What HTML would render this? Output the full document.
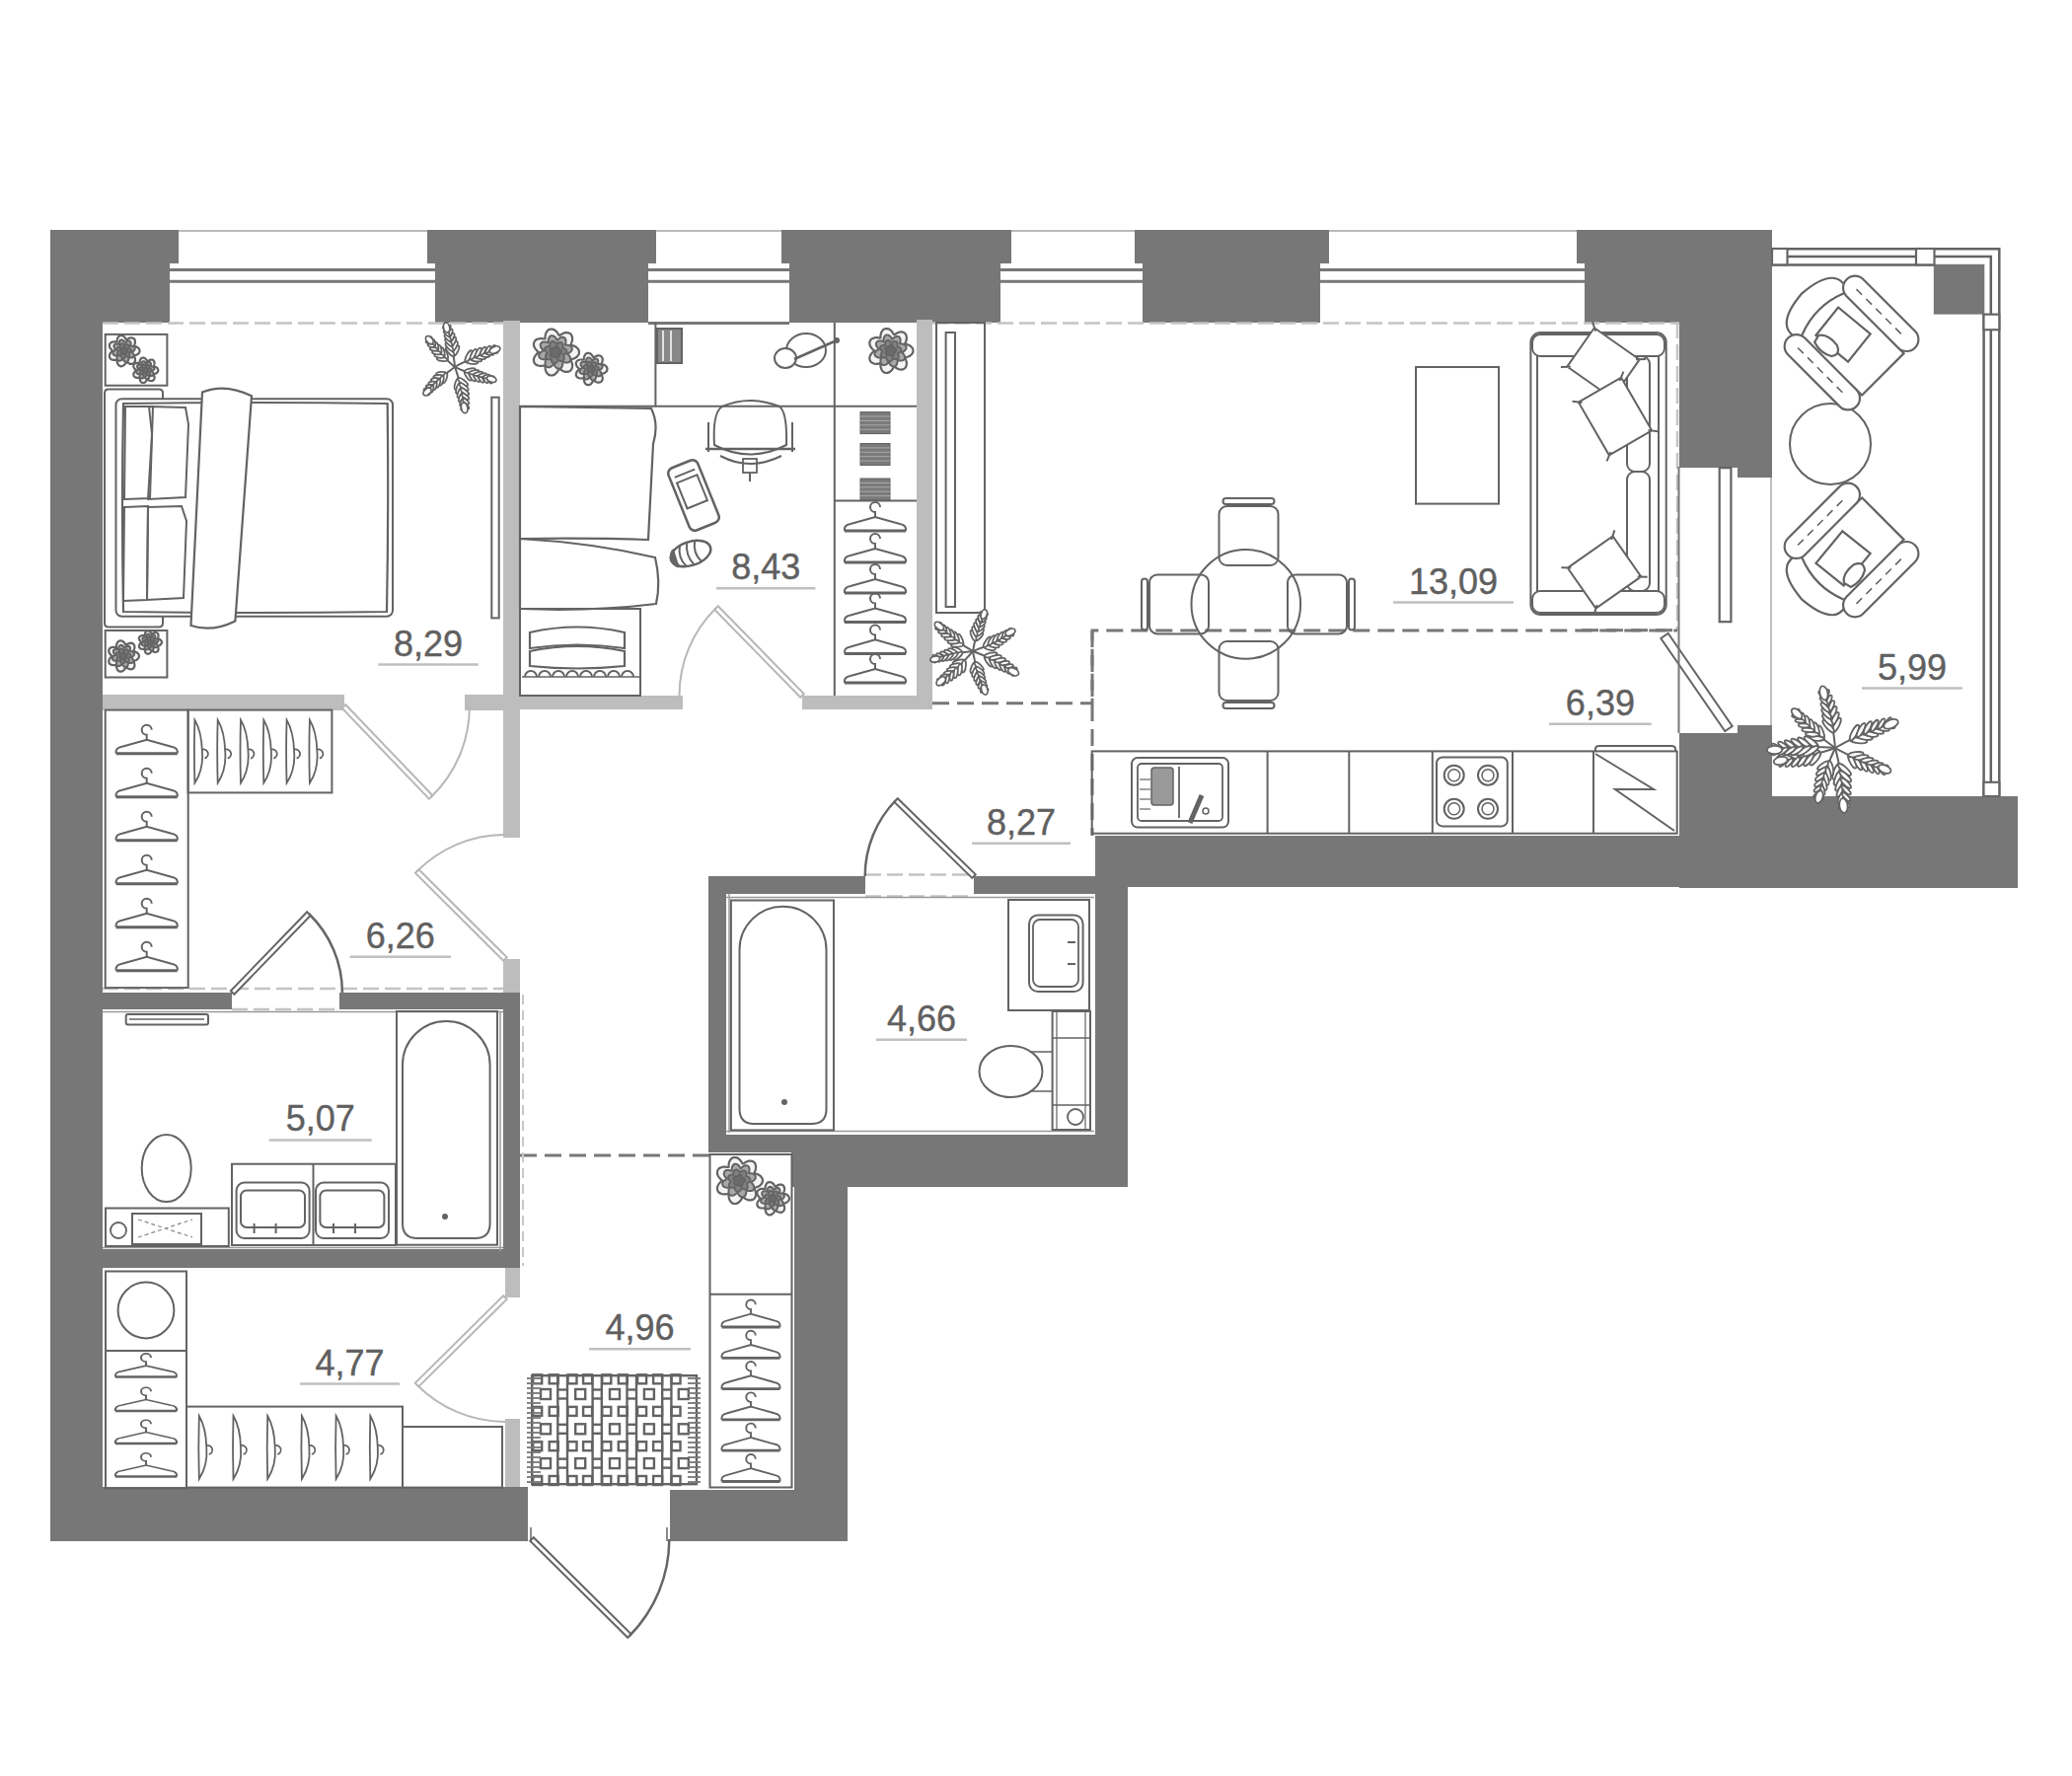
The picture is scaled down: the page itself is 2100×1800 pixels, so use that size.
<!DOCTYPE html>
<html><head><meta charset="utf-8">
<style>
html,body{margin:0;padding:0;background:#fff;width:2100px;height:1800px;overflow:hidden}
svg{display:block}
text{font-family:"Liberation Sans",sans-serif;font-size:36px;fill:#606060;stroke:#606060;stroke-width:0.4}
</style></head><body>
<svg width="2100" height="1800" viewBox="0 0 2100 1800">
<rect width="2100" height="1800" fill="#fff"/>
<defs>
<g id="hg"><path d="M-31,0 L31,0" stroke-width="3"/><path d="M-31,0 Q-32,-6 -25,-7 L0,-14 L25,-7 Q32,-6 31,0"/><path d="M0,-14 L0,-19 A5,5 0 1 1 5,-24"/></g>
<g id="hv"><path d="M0,0 Q-1,32 0,64 Q9,50 7.5,32 Q7,12 0,0 Z"/><path d="M7.5,30 A4.5,4.5 0 1 1 10,39"/></g>
</defs>

<!-- WALLS -->
<g fill="#777">
<rect x="51" y="233" width="130" height="34"/>
<rect x="51" y="233" width="121" height="94"/>
<rect x="51" y="233" width="53" height="1329"/>
<rect x="433" y="233" width="232" height="34"/>
<rect x="441" y="233" width="216" height="94"/>
<rect x="792" y="233" width="233" height="34"/>
<rect x="800" y="233" width="214" height="94"/>
<rect x="1150" y="233" width="197" height="34"/>
<rect x="1158" y="233" width="180" height="94"/>
<rect x="1598" y="233" width="198" height="34"/>
<rect x="1606" y="233" width="190" height="94"/>
<rect x="1702" y="233" width="94" height="241"/>
<rect x="1761" y="233" width="35" height="251"/>
<rect x="1761" y="735" width="35" height="165"/>
<rect x="1702" y="743" width="94" height="157"/>
<rect x="1110" y="847" width="686" height="52"/>
<rect x="1796" y="807" width="249" height="93"/>
<rect x="1110" y="847" width="33" height="356"/>
<rect x="718" y="1150" width="425" height="18"/>
<rect x="802" y="1150" width="341" height="53"/>
<rect x="718" y="888" width="159" height="18"/>
<rect x="987" y="888" width="123" height="18"/>
<rect x="718" y="888" width="18" height="280"/>
<rect x="805" y="1150" width="54" height="412"/>
<rect x="679" y="1510" width="180" height="52"/>
<rect x="51" y="1507" width="484" height="55"/>
<rect x="104" y="1006" width="131" height="17"/>
<rect x="344" y="1006" width="183" height="17"/>
<rect x="510" y="1006" width="17" height="279"/>
<rect x="104" y="1266" width="423" height="19"/>
</g>
<!-- PARTITIONS -->
<g fill="#bdbdbd">
<rect x="510" y="325" width="17" height="524"/>
<rect x="510" y="972" width="17" height="34"/>
<rect x="104" y="704" width="245" height="16"/>
<rect x="471" y="704" width="56" height="16"/>
<rect x="527" y="705" width="165" height="14"/>
<rect x="813" y="705" width="132" height="14"/>
<rect x="929" y="324" width="16" height="395"/>
<rect x="512" y="1285" width="15" height="30"/>
<rect x="512" y="1438" width="15" height="69"/>
</g>
<!-- WINDOWS -->
<g fill="none">
<line x1="181" y1="234" x2="433" y2="234" stroke="#bbb" stroke-width="2"/>
<line x1="172" y1="273.5" x2="441" y2="273.5" stroke="#777" stroke-width="3"/>
<line x1="172" y1="285.3" x2="441" y2="285.3" stroke="#777" stroke-width="3"/>
<line x1="665" y1="234" x2="792" y2="234" stroke="#bbb" stroke-width="2"/>
<line x1="657" y1="273.5" x2="800" y2="273.5" stroke="#777" stroke-width="3"/>
<line x1="657" y1="285.3" x2="800" y2="285.3" stroke="#777" stroke-width="3"/>
<line x1="1025" y1="234" x2="1150" y2="234" stroke="#bbb" stroke-width="2"/>
<line x1="1014" y1="273.5" x2="1158" y2="273.5" stroke="#777" stroke-width="3"/>
<line x1="1014" y1="285.3" x2="1158" y2="285.3" stroke="#777" stroke-width="3"/>
<line x1="1347" y1="234" x2="1598" y2="234" stroke="#bbb" stroke-width="2"/>
<line x1="1338" y1="273.5" x2="1606" y2="273.5" stroke="#777" stroke-width="3"/>
<line x1="1338" y1="285.3" x2="1606" y2="285.3" stroke="#777" stroke-width="3"/>
<line x1="657" y1="327.5" x2="800" y2="327.5" stroke="#777" stroke-width="3"/>
</g>
<!-- DASHED -->
<g fill="none" stroke="#c4c4c4" stroke-width="2.5" stroke-dasharray="16,6">
<line x1="104" y1="327.5" x2="510" y2="327.5"/>
<line x1="945" y1="327.5" x2="1702" y2="327.5"/>
<line x1="1700" y1="327" x2="1700" y2="639"/>
<line x1="104" y1="1002" x2="510" y2="1002"/>
<line x1="235" y1="1023" x2="344" y2="1023"/>
<line x1="877" y1="886.5" x2="987" y2="886.5"/>
<line x1="877" y1="908.5" x2="987" y2="908.5"/>
</g>
<g fill="none" stroke="#777" stroke-width="3" stroke-dasharray="17,8">
<path d="M945,712.7 H1107 V639 H1700"/>
<path d="M1107,639 V847"/>
<line x1="527" y1="1171" x2="719" y2="1171"/>
<line x1="1603" y1="638.7" x2="1702" y2="638.7"/>
</g>
<!-- DOORS -->
<g fill="#fff" stroke="#b8b8b8" stroke-width="2">
<rect x="0" y="-2.5" width="127.4" height="5" transform="translate(348.5,716) rotate(46.21)"/>
<rect x="0" y="-2.5" width="124.5" height="5" transform="translate(813,705) rotate(-134.35)"/>
<rect x="0" y="-2.5" width="126.1" height="5" transform="translate(512,972) rotate(-135.10)"/>
<rect x="0" y="-2.5" width="125.9" height="5" transform="translate(512,1315) rotate(135.32)"/>
</g><g fill="none" stroke="#b8b8b8" stroke-width="2">
<path d="M436.7,808 A127.4,127.4 0 0 0 475.9,716.0"/>
<path d="M726,616 A124.5,124.5 0 0 0 688.5,705.0"/>
<path d="M422.7,883 A126.1,126.1 0 0 1 512.0,845.9"/>
<path d="M422.5,1403.5 A125.9,125.9 0 0 0 512.0,1440.9"/>
</g>
<g fill="#fff" stroke="#666" stroke-width="2">
<rect x="0" y="-2.5" width="111.3" height="5" transform="translate(235.6,1006) rotate(-45.95)"/>
<rect x="0" y="-2.5" width="110.3" height="5" transform="translate(987,888) rotate(-135.73)"/>
<rect x="0" y="-2.5" width="139.3" height="5" transform="translate(539,1560) rotate(44.71)"/>
<rect x="0" y="-4.5" width="114.3" height="9" transform="translate(1687,644.5) rotate(55.34)"/>
</g><g fill="none" stroke="#666" stroke-width="2.5">
<path d="M313,926 A111.3,111.3 0 0 1 346.9,1006.0"/>
<path d="M908,811 A110.3,110.3 0 0 0 876.7,888.0"/>
<path d="M638,1658 A139.3,139.3 0 0 0 678.3,1560.0"/>
</g>
<!-- FURN START -->
<rect x="106.7" y="338.9" width="62.7" height="51.8" rx="0" fill="none" stroke="#636363" stroke-width="2" />
<path d="M141.6,355.6 L141.4,356.6 L141.0,357.6 L140.2,358.5 L139.2,359.3 L138.1,359.8 L136.8,360.2 L135.8,360.6 L136.4,361.8 L136.8,363.1 L137.0,364.3 L137.0,365.6 L136.7,366.7 L136.1,367.6 L135.3,368.3 L134.4,368.7 L133.3,368.9 L132.1,368.8 L130.9,368.4 L129.7,367.8 L128.7,367.0 L127.9,367.0 L127.3,368.2 L126.5,369.3 L125.6,370.2 L124.6,370.8 L123.5,371.2 L122.5,371.3 L121.5,371.0 L120.6,370.5 L119.8,369.6 L119.2,368.6 L118.8,367.4 L118.6,366.1 L118.6,364.7 L117.7,364.6 L116.4,364.8 L115.1,364.8 L113.9,364.6 L112.8,364.2 L111.9,363.5 L111.3,362.7 L110.9,361.7 L110.9,360.6 L111.1,359.5 L111.6,358.4 L112.4,357.3 L113.3,356.4 L114.4,355.6 L113.3,354.8 L112.4,353.9 L111.6,352.8 L111.1,351.7 L110.9,350.6 L110.9,349.5 L111.3,348.5 L111.9,347.7 L112.8,347.0 L113.9,346.6 L115.1,346.4 L116.4,346.4 L117.7,346.6 L118.6,346.5 L118.6,345.1 L118.8,343.8 L119.2,342.6 L119.8,341.6 L120.6,340.7 L121.5,340.2 L122.5,339.9 L123.5,340.0 L124.6,340.4 L125.6,341.0 L126.5,341.9 L127.3,343.0 L127.9,344.2 L128.7,344.2 L129.7,343.4 L130.9,342.8 L132.1,342.4 L133.3,342.3 L134.4,342.5 L135.3,342.9 L136.1,343.6 L136.7,344.5 L137.0,345.6 L137.0,346.9 L136.8,348.1 L136.4,349.4 L135.8,350.6 L136.8,351.0 L138.1,351.4 L139.2,351.9 L140.2,352.7 L141.0,353.6 L141.4,354.6 L141.6,355.6Z" fill="#f4f4f4" stroke="#636363" stroke-width="2.2"/>
<path d="M135.5,355.6 L134.7,356.2 L133.8,356.7 L134.2,357.3 L134.9,358.1 L135.4,358.9 L135.7,359.8 L135.8,360.6 L135.6,361.4 L135.1,362.0 L134.4,362.4 L133.6,362.6 L132.6,362.6 L131.6,362.5 L130.6,362.1 L130.5,362.9 L130.4,364.0 L130.2,364.9 L129.8,365.7 L129.3,366.4 L128.6,366.7 L127.8,366.8 L127.1,366.6 L126.3,366.2 L125.6,365.5 L125.0,364.7 L124.5,363.8 L123.9,364.2 L123.1,364.9 L122.3,365.4 L121.4,365.7 L120.6,365.8 L119.8,365.6 L119.2,365.1 L118.8,364.4 L118.6,363.6 L118.6,362.6 L118.7,361.6 L119.1,360.6 L118.3,360.5 L117.2,360.4 L116.3,360.2 L115.5,359.8 L114.8,359.3 L114.5,358.6 L114.4,357.8 L114.6,357.1 L115.0,356.3 L115.7,355.6 L116.5,355.0 L117.4,354.5 L117.0,353.9 L116.3,353.1 L115.8,352.3 L115.5,351.4 L115.4,350.6 L115.6,349.8 L116.1,349.2 L116.8,348.8 L117.6,348.6 L118.6,348.6 L119.6,348.7 L120.6,349.1 L120.7,348.3 L120.8,347.2 L121.0,346.3 L121.4,345.5 L121.9,344.8 L122.6,344.5 L123.4,344.4 L124.1,344.6 L124.9,345.0 L125.6,345.7 L126.2,346.5 L126.7,347.4 L127.3,347.0 L128.1,346.3 L128.9,345.8 L129.8,345.5 L130.6,345.4 L131.4,345.6 L132.0,346.1 L132.4,346.8 L132.6,347.6 L132.6,348.6 L132.5,349.6 L132.1,350.6 L132.9,350.7 L134.0,350.8 L134.9,351.0 L135.7,351.4 L136.4,351.9 L136.7,352.6 L136.8,353.4 L136.6,354.1 L136.2,354.9 L135.5,355.6Z" fill="#a8a8a8" stroke="#636363" stroke-width="2"/>
<path d="M133.1,355.6 L132.9,356.1 L132.5,356.5 L132.0,356.9 L131.5,357.2 L130.9,357.4 L130.9,357.8 L131.2,358.4 L131.4,358.9 L131.5,359.5 L131.5,360.1 L131.3,360.6 L131.0,361.0 L130.6,361.3 L130.2,361.5 L129.6,361.6 L129.0,361.5 L128.4,361.4 L127.9,361.1 L127.3,360.7 L127.1,361.3 L126.8,361.9 L126.5,362.4 L126.1,362.8 L125.6,363.1 L125.1,363.2 L124.6,363.2 L124.1,363.1 L123.7,362.8 L123.3,362.3 L123.0,361.8 L122.8,361.2 L122.7,360.6 L122.5,360.2 L121.9,360.4 L121.3,360.5 L120.7,360.5 L120.1,360.4 L119.6,360.2 L119.2,359.9 L119.0,359.4 L118.8,358.9 L118.8,358.4 L119.0,357.9 L119.2,357.3 L119.6,356.8 L120.0,356.3 L120.0,356.0 L119.4,355.6 L119.0,355.2 L118.6,354.7 L118.4,354.2 L118.3,353.6 L118.3,353.1 L118.5,352.7 L118.9,352.3 L119.3,352.0 L119.9,351.8 L120.5,351.7 L121.1,351.6 L121.7,351.7 L121.8,351.2 L121.8,350.6 L121.8,350.0 L122.0,349.4 L122.3,348.9 L122.7,348.6 L123.1,348.3 L123.6,348.2 L124.1,348.3 L124.7,348.5 L125.2,348.8 L125.6,349.3 L126.0,349.8 L126.3,350.2 L126.8,349.8 L127.3,349.4 L127.8,349.1 L128.4,348.9 L128.9,348.9 L129.4,349.0 L129.9,349.2 L130.2,349.6 L130.5,350.0 L130.6,350.6 L130.6,351.2 L130.5,351.8 L130.3,352.4 L130.4,352.8 L131.1,352.9 L131.7,353.1 L132.2,353.4 L132.7,353.7 L133.0,354.1 L133.2,354.6 L133.2,355.1 L133.1,355.6Z" fill="#808080" stroke="#636363" stroke-width="1.8"/>
<path d="M129.7,355.6 L129.6,355.9 L129.5,356.1 L129.4,356.3 L129.2,356.6 L128.9,356.7 L128.7,356.9 L128.4,357.0 L128.1,357.1 L128.2,357.3 L128.2,357.6 L128.2,357.9 L128.2,358.2 L128.1,358.5 L128.0,358.7 L127.8,359.0 L127.7,359.2 L127.4,359.3 L127.2,359.4 L126.9,359.5 L126.7,359.5 L126.4,359.5 L126.1,359.4 L125.8,359.3 L125.6,359.1 L125.4,359.0 L125.2,358.7 L125.0,358.5 L124.8,358.6 L124.6,358.7 L124.3,358.8 L124.0,358.9 L123.7,358.9 L123.4,358.9 L123.1,358.8 L122.9,358.7 L122.7,358.5 L122.5,358.3 L122.3,358.1 L122.2,357.9 L122.1,357.6 L122.1,357.3 L122.1,357.0 L122.2,356.8 L122.3,356.5 L122.5,356.2 L122.6,356.0 L122.6,355.8 L122.4,355.6 L122.2,355.4 L122.0,355.1 L121.9,354.9 L121.8,354.6 L121.8,354.3 L121.8,354.0 L121.9,353.8 L122.0,353.5 L122.2,353.3 L122.3,353.1 L122.6,352.9 L122.8,352.8 L123.1,352.8 L123.4,352.7 L123.7,352.7 L124.0,352.8 L124.3,352.9 L124.5,352.8 L124.6,352.6 L124.7,352.3 L124.9,352.1 L125.1,351.9 L125.3,351.7 L125.6,351.6 L125.9,351.5 L126.1,351.5 L126.4,351.5 L126.7,351.6 L126.9,351.7 L127.1,351.9 L127.3,352.1 L127.5,352.3 L127.6,352.6 L127.7,352.8 L127.8,353.1 L127.8,353.4 L127.8,353.7 L128.1,353.7 L128.4,353.7 L128.7,353.8 L128.9,354.0 L129.1,354.1 L129.4,354.3 L129.5,354.5 L129.6,354.8 L129.7,355.1 L129.7,355.3 L129.7,355.6Z" fill="#6a6a6a" stroke="#636363" stroke-width="1.5"/>
<path d="M160.3,375.3 L160.2,376.1 L159.8,376.9 L159.2,377.7 L158.4,378.3 L157.4,378.7 L156.4,379.1 L155.6,379.4 L156.1,380.4 L156.4,381.4 L156.6,382.4 L156.5,383.4 L156.3,384.3 L155.8,385.0 L155.2,385.6 L154.4,386.0 L153.5,386.1 L152.6,386.0 L151.6,385.7 L150.7,385.2 L149.8,384.6 L149.1,384.6 L148.7,385.6 L148.0,386.4 L147.3,387.2 L146.5,387.7 L145.6,388.0 L144.8,388.0 L143.9,387.8 L143.2,387.4 L142.6,386.7 L142.1,385.9 L141.8,384.9 L141.6,383.8 L141.6,382.7 L140.9,382.6 L139.8,382.8 L138.8,382.8 L137.8,382.6 L136.9,382.3 L136.2,381.7 L135.6,381.0 L135.4,380.2 L135.3,379.4 L135.5,378.5 L135.9,377.6 L136.6,376.7 L137.3,376.0 L138.2,375.3 L137.3,374.6 L136.6,373.9 L135.9,373.0 L135.5,372.1 L135.3,371.2 L135.4,370.4 L135.6,369.6 L136.2,368.9 L136.9,368.3 L137.8,368.0 L138.8,367.8 L139.8,367.8 L140.9,368.0 L141.6,367.9 L141.6,366.8 L141.8,365.7 L142.1,364.7 L142.6,363.9 L143.2,363.2 L143.9,362.8 L144.8,362.6 L145.6,362.6 L146.5,362.9 L147.3,363.4 L148.0,364.2 L148.7,365.0 L149.1,366.0 L149.8,366.0 L150.7,365.4 L151.6,364.9 L152.6,364.6 L153.5,364.5 L154.4,364.6 L155.2,365.0 L155.8,365.6 L156.3,366.3 L156.5,367.2 L156.6,368.2 L156.4,369.2 L156.1,370.2 L155.6,371.2 L156.4,371.5 L157.4,371.9 L158.4,372.3 L159.2,372.9 L159.8,373.7 L160.2,374.5 L160.3,375.3Z" fill="#f4f4f4" stroke="#636363" stroke-width="2.2"/>
<path d="M155.4,375.3 L154.7,375.8 L153.9,376.2 L154.3,376.7 L154.9,377.3 L155.3,378.0 L155.5,378.7 L155.6,379.4 L155.4,380.0 L155.0,380.5 L154.5,380.8 L153.8,381.0 L153.0,381.0 L152.2,380.9 L151.4,380.6 L151.3,381.2 L151.2,382.1 L151.0,382.9 L150.7,383.5 L150.3,384.0 L149.7,384.3 L149.1,384.4 L148.5,384.3 L147.9,383.9 L147.3,383.4 L146.8,382.7 L146.4,381.9 L145.9,382.3 L145.3,382.9 L144.6,383.3 L143.9,383.5 L143.2,383.6 L142.6,383.4 L142.1,383.0 L141.8,382.5 L141.6,381.8 L141.6,381.0 L141.7,380.2 L142.0,379.4 L141.4,379.3 L140.5,379.2 L139.7,379.0 L139.1,378.7 L138.6,378.3 L138.3,377.7 L138.2,377.1 L138.3,376.5 L138.7,375.9 L139.2,375.3 L139.9,374.8 L140.7,374.4 L140.3,373.9 L139.7,373.3 L139.3,372.6 L139.1,371.9 L139.0,371.2 L139.2,370.6 L139.6,370.1 L140.1,369.8 L140.8,369.6 L141.6,369.6 L142.4,369.7 L143.2,370.0 L143.3,369.4 L143.4,368.5 L143.6,367.7 L143.9,367.1 L144.3,366.6 L144.9,366.3 L145.5,366.2 L146.1,366.3 L146.7,366.7 L147.3,367.2 L147.8,367.9 L148.2,368.7 L148.7,368.3 L149.3,367.7 L150.0,367.3 L150.7,367.1 L151.4,367.0 L152.0,367.2 L152.5,367.6 L152.8,368.1 L153.0,368.8 L153.0,369.6 L152.9,370.4 L152.6,371.2 L153.2,371.3 L154.1,371.4 L154.9,371.6 L155.5,371.9 L156.0,372.3 L156.3,372.9 L156.4,373.5 L156.3,374.1 L155.9,374.7 L155.4,375.3Z" fill="#a8a8a8" stroke="#636363" stroke-width="2"/>
<path d="M153.4,375.3 L153.2,375.7 L152.9,376.0 L152.5,376.3 L152.1,376.6 L151.6,376.7 L151.6,377.1 L151.8,377.5 L152.0,378.0 L152.1,378.5 L152.1,379.0 L151.9,379.4 L151.7,379.7 L151.4,380.0 L151.0,380.1 L150.6,380.2 L150.1,380.1 L149.6,380.0 L149.1,379.7 L148.7,379.5 L148.5,379.9 L148.3,380.4 L148.0,380.8 L147.7,381.1 L147.3,381.4 L146.9,381.5 L146.5,381.5 L146.1,381.4 L145.7,381.1 L145.4,380.8 L145.2,380.4 L145.0,379.9 L145.0,379.4 L144.8,379.0 L144.3,379.2 L143.8,379.3 L143.3,379.3 L142.9,379.2 L142.4,379.0 L142.1,378.8 L141.9,378.4 L141.8,378.0 L141.8,377.6 L141.9,377.1 L142.1,376.7 L142.4,376.3 L142.8,375.9 L142.7,375.6 L142.3,375.3 L141.9,374.9 L141.6,374.6 L141.4,374.1 L141.4,373.7 L141.4,373.3 L141.6,372.9 L141.8,372.6 L142.2,372.3 L142.6,372.2 L143.1,372.1 L143.6,372.1 L144.2,372.2 L144.2,371.8 L144.2,371.2 L144.2,370.7 L144.4,370.3 L144.6,369.9 L144.9,369.6 L145.3,369.4 L145.7,369.3 L146.1,369.4 L146.5,369.5 L146.9,369.8 L147.3,370.1 L147.6,370.6 L147.9,370.9 L148.2,370.6 L148.7,370.2 L149.1,370.0 L149.5,369.9 L150.0,369.8 L150.4,369.9 L150.8,370.1 L151.1,370.4 L151.3,370.8 L151.4,371.2 L151.4,371.7 L151.3,372.2 L151.2,372.7 L151.2,373.0 L151.7,373.1 L152.2,373.3 L152.7,373.5 L153.0,373.8 L153.3,374.1 L153.5,374.5 L153.5,374.9 L153.4,375.3Z" fill="#808080" stroke="#636363" stroke-width="1.8"/>
<path d="M150.6,375.3 L150.6,375.5 L150.5,375.7 L150.4,375.9 L150.2,376.1 L150.0,376.2 L149.8,376.3 L149.6,376.4 L149.4,376.5 L149.4,376.7 L149.4,376.9 L149.4,377.2 L149.4,377.4 L149.3,377.6 L149.2,377.8 L149.1,378.0 L149.0,378.2 L148.8,378.3 L148.6,378.4 L148.4,378.5 L148.2,378.5 L147.9,378.5 L147.7,378.4 L147.5,378.3 L147.3,378.2 L147.1,378.0 L147.0,377.9 L146.8,377.7 L146.7,377.7 L146.4,377.8 L146.2,377.9 L146.0,377.9 L145.8,378.0 L145.5,377.9 L145.3,377.9 L145.1,377.8 L144.9,377.7 L144.8,377.5 L144.6,377.3 L144.5,377.1 L144.5,376.9 L144.5,376.7 L144.5,376.5 L144.5,376.2 L144.6,376.0 L144.7,375.8 L144.9,375.6 L144.9,375.5 L144.7,375.3 L144.5,375.1 L144.4,374.9 L144.3,374.7 L144.2,374.5 L144.2,374.3 L144.2,374.0 L144.3,373.8 L144.4,373.6 L144.5,373.4 L144.7,373.3 L144.8,373.1 L145.1,373.1 L145.3,373.0 L145.5,373.0 L145.7,373.0 L146.0,373.0 L146.2,373.1 L146.4,373.1 L146.5,372.9 L146.6,372.7 L146.7,372.5 L146.9,372.3 L147.1,372.2 L147.3,372.1 L147.5,372.0 L147.7,372.0 L148.0,372.0 L148.2,372.0 L148.4,372.1 L148.6,372.3 L148.7,372.4 L148.8,372.6 L148.9,372.8 L149.0,373.1 L149.1,373.3 L149.1,373.5 L149.1,373.7 L149.3,373.7 L149.6,373.8 L149.8,373.9 L150.0,374.0 L150.2,374.1 L150.3,374.3 L150.5,374.4 L150.6,374.6 L150.6,374.9 L150.7,375.1 L150.6,375.3Z" fill="#6a6a6a" stroke="#636363" stroke-width="1.5"/>
<rect x="106.7" y="639" width="62.7" height="47.5" rx="0" fill="none" stroke="#636363" stroke-width="2" />
<path d="M141.0,665.0 L140.8,666.0 L140.4,667.0 L139.6,667.9 L138.6,668.7 L137.5,669.2 L136.2,669.6 L135.2,670.0 L135.8,671.2 L136.2,672.5 L136.4,673.7 L136.4,675.0 L136.1,676.1 L135.5,677.0 L134.7,677.7 L133.8,678.1 L132.7,678.3 L131.5,678.2 L130.3,677.8 L129.1,677.2 L128.1,676.4 L127.3,676.4 L126.7,677.6 L125.9,678.7 L125.0,679.6 L124.0,680.2 L122.9,680.6 L121.9,680.7 L120.9,680.4 L120.0,679.9 L119.2,679.0 L118.6,678.0 L118.2,676.8 L118.0,675.5 L118.0,674.1 L117.1,674.0 L115.8,674.2 L114.5,674.2 L113.3,674.0 L112.2,673.6 L111.3,672.9 L110.7,672.1 L110.3,671.1 L110.3,670.0 L110.5,668.9 L111.0,667.8 L111.8,666.7 L112.7,665.8 L113.8,665.0 L112.7,664.2 L111.8,663.3 L111.0,662.2 L110.5,661.1 L110.3,660.0 L110.3,658.9 L110.7,657.9 L111.3,657.1 L112.2,656.4 L113.3,656.0 L114.5,655.8 L115.8,655.8 L117.1,656.0 L118.0,655.9 L118.0,654.5 L118.2,653.2 L118.6,652.0 L119.2,651.0 L120.0,650.1 L120.9,649.6 L121.9,649.3 L122.9,649.4 L124.0,649.8 L125.0,650.4 L125.9,651.3 L126.7,652.4 L127.3,653.6 L128.1,653.6 L129.1,652.8 L130.3,652.2 L131.5,651.8 L132.7,651.7 L133.8,651.9 L134.7,652.3 L135.5,653.0 L136.1,653.9 L136.4,655.0 L136.4,656.3 L136.2,657.5 L135.8,658.8 L135.2,660.0 L136.2,660.4 L137.5,660.8 L138.6,661.3 L139.6,662.1 L140.4,663.0 L140.8,664.0 L141.0,665.0Z" fill="#f4f4f4" stroke="#636363" stroke-width="2.2"/>
<path d="M134.9,665.0 L134.1,665.6 L133.2,666.1 L133.6,666.7 L134.3,667.5 L134.8,668.3 L135.1,669.2 L135.2,670.0 L135.0,670.8 L134.5,671.4 L133.8,671.8 L133.0,672.0 L132.0,672.0 L131.0,671.9 L130.0,671.5 L129.9,672.3 L129.8,673.4 L129.6,674.3 L129.2,675.1 L128.7,675.8 L128.0,676.1 L127.2,676.2 L126.5,676.0 L125.7,675.6 L125.0,674.9 L124.4,674.1 L123.9,673.2 L123.3,673.6 L122.5,674.3 L121.7,674.8 L120.8,675.1 L120.0,675.2 L119.2,675.0 L118.6,674.5 L118.2,673.8 L118.0,673.0 L118.0,672.0 L118.1,671.0 L118.5,670.0 L117.7,669.9 L116.6,669.8 L115.7,669.6 L114.9,669.2 L114.2,668.7 L113.9,668.0 L113.8,667.2 L114.0,666.5 L114.4,665.7 L115.1,665.0 L115.9,664.4 L116.8,663.9 L116.4,663.3 L115.7,662.5 L115.2,661.7 L114.9,660.8 L114.8,660.0 L115.0,659.2 L115.5,658.6 L116.2,658.2 L117.0,658.0 L118.0,658.0 L119.0,658.1 L120.0,658.5 L120.1,657.7 L120.2,656.6 L120.4,655.7 L120.8,654.9 L121.3,654.2 L122.0,653.9 L122.8,653.8 L123.5,654.0 L124.3,654.4 L125.0,655.1 L125.6,655.9 L126.1,656.8 L126.7,656.4 L127.5,655.7 L128.3,655.2 L129.2,654.9 L130.0,654.8 L130.8,655.0 L131.4,655.5 L131.8,656.2 L132.0,657.0 L132.0,658.0 L131.9,659.0 L131.5,660.0 L132.3,660.1 L133.4,660.2 L134.3,660.4 L135.1,660.8 L135.8,661.3 L136.1,662.0 L136.2,662.8 L136.0,663.5 L135.6,664.3 L134.9,665.0Z" fill="#a8a8a8" stroke="#636363" stroke-width="2"/>
<path d="M132.5,665.0 L132.3,665.5 L131.9,665.9 L131.4,666.3 L130.9,666.6 L130.3,666.8 L130.3,667.2 L130.6,667.8 L130.8,668.3 L130.9,668.9 L130.9,669.5 L130.7,670.0 L130.4,670.4 L130.0,670.7 L129.6,670.9 L129.0,671.0 L128.4,670.9 L127.8,670.8 L127.3,670.5 L126.7,670.1 L126.5,670.7 L126.2,671.3 L125.9,671.8 L125.5,672.2 L125.0,672.5 L124.5,672.6 L124.0,672.6 L123.5,672.5 L123.1,672.2 L122.7,671.7 L122.4,671.2 L122.2,670.6 L122.1,670.0 L121.9,669.6 L121.3,669.8 L120.7,669.9 L120.1,669.9 L119.5,669.8 L119.0,669.6 L118.6,669.3 L118.4,668.8 L118.2,668.3 L118.2,667.8 L118.4,667.3 L118.6,666.7 L119.0,666.2 L119.4,665.7 L119.4,665.4 L118.8,665.0 L118.4,664.6 L118.0,664.1 L117.8,663.6 L117.7,663.0 L117.7,662.5 L117.9,662.1 L118.3,661.7 L118.7,661.4 L119.3,661.2 L119.9,661.1 L120.5,661.0 L121.1,661.1 L121.2,660.6 L121.2,660.0 L121.2,659.4 L121.4,658.8 L121.7,658.3 L122.1,658.0 L122.5,657.7 L123.0,657.6 L123.5,657.7 L124.1,657.9 L124.6,658.2 L125.0,658.7 L125.4,659.2 L125.7,659.6 L126.2,659.2 L126.7,658.8 L127.2,658.5 L127.8,658.3 L128.3,658.3 L128.8,658.4 L129.3,658.6 L129.6,659.0 L129.9,659.4 L130.0,660.0 L130.0,660.6 L129.9,661.2 L129.7,661.8 L129.8,662.2 L130.5,662.3 L131.1,662.5 L131.6,662.8 L132.1,663.1 L132.4,663.5 L132.6,664.0 L132.6,664.5 L132.5,665.0Z" fill="#808080" stroke="#636363" stroke-width="1.8"/>
<path d="M129.1,665.0 L129.0,665.3 L128.9,665.5 L128.8,665.7 L128.6,666.0 L128.3,666.1 L128.1,666.3 L127.8,666.4 L127.5,666.5 L127.6,666.7 L127.6,667.0 L127.6,667.3 L127.6,667.6 L127.5,667.9 L127.4,668.1 L127.2,668.4 L127.1,668.6 L126.8,668.7 L126.6,668.8 L126.3,668.9 L126.1,668.9 L125.8,668.9 L125.5,668.8 L125.2,668.7 L125.0,668.5 L124.8,668.4 L124.6,668.1 L124.4,667.9 L124.2,668.0 L124.0,668.1 L123.7,668.2 L123.4,668.3 L123.1,668.3 L122.8,668.3 L122.5,668.2 L122.3,668.1 L122.1,667.9 L121.9,667.7 L121.7,667.5 L121.6,667.3 L121.5,667.0 L121.5,666.7 L121.5,666.4 L121.6,666.2 L121.7,665.9 L121.9,665.6 L122.0,665.4 L122.0,665.2 L121.8,665.0 L121.6,664.8 L121.4,664.5 L121.3,664.3 L121.2,664.0 L121.2,663.7 L121.2,663.4 L121.3,663.2 L121.4,662.9 L121.6,662.7 L121.7,662.5 L122.0,662.3 L122.2,662.2 L122.5,662.2 L122.8,662.1 L123.1,662.1 L123.4,662.2 L123.7,662.3 L123.9,662.2 L124.0,662.0 L124.1,661.7 L124.3,661.5 L124.5,661.3 L124.7,661.1 L125.0,661.0 L125.3,660.9 L125.5,660.9 L125.8,660.9 L126.1,661.0 L126.3,661.1 L126.5,661.3 L126.7,661.5 L126.9,661.7 L127.0,662.0 L127.1,662.2 L127.2,662.5 L127.2,662.8 L127.2,663.1 L127.5,663.1 L127.8,663.1 L128.1,663.2 L128.3,663.4 L128.5,663.5 L128.8,663.7 L128.9,663.9 L129.0,664.2 L129.1,664.5 L129.1,664.7 L129.1,665.0Z" fill="#6a6a6a" stroke="#636363" stroke-width="1.5"/>
<path d="M164.0,651.0 L163.9,651.8 L163.5,652.5 L163.0,653.2 L162.2,653.7 L161.4,654.2 L160.4,654.5 L159.6,654.8 L160.1,655.7 L160.4,656.6 L160.5,657.6 L160.5,658.5 L160.3,659.3 L159.9,660.0 L159.3,660.5 L158.6,660.8 L157.8,661.0 L156.9,660.9 L156.0,660.6 L155.1,660.2 L154.3,659.6 L153.7,659.6 L153.2,660.5 L152.7,661.3 L152.0,661.9 L151.3,662.4 L150.5,662.7 L149.7,662.8 L148.9,662.6 L148.2,662.1 L147.6,661.5 L147.2,660.7 L146.9,659.8 L146.8,658.9 L146.7,657.9 L146.1,657.8 L145.1,657.9 L144.1,657.9 L143.2,657.8 L142.4,657.4 L141.7,656.9 L141.2,656.3 L141.0,655.6 L140.9,654.8 L141.1,653.9 L141.5,653.1 L142.1,652.3 L142.8,651.6 L143.6,651.0 L142.8,650.4 L142.1,649.7 L141.5,648.9 L141.1,648.1 L140.9,647.2 L141.0,646.4 L141.2,645.7 L141.7,645.1 L142.4,644.6 L143.2,644.2 L144.1,644.1 L145.1,644.1 L146.1,644.2 L146.7,644.1 L146.8,643.1 L146.9,642.2 L147.2,641.3 L147.6,640.5 L148.2,639.9 L148.9,639.4 L149.7,639.2 L150.5,639.3 L151.3,639.6 L152.0,640.1 L152.7,640.7 L153.2,641.5 L153.7,642.4 L154.3,642.4 L155.1,641.8 L156.0,641.4 L156.9,641.1 L157.8,641.0 L158.6,641.2 L159.3,641.5 L159.9,642.0 L160.3,642.7 L160.5,643.5 L160.5,644.4 L160.4,645.4 L160.1,646.3 L159.6,647.2 L160.4,647.5 L161.4,647.8 L162.2,648.3 L163.0,648.8 L163.5,649.5 L163.9,650.2 L164.0,651.0Z" fill="#f4f4f4" stroke="#636363" stroke-width="2.2"/>
<path d="M159.4,651.0 L158.8,651.4 L158.1,651.8 L158.5,652.3 L159.0,652.9 L159.4,653.5 L159.6,654.1 L159.6,654.8 L159.5,655.3 L159.1,655.8 L158.6,656.1 L158.0,656.3 L157.3,656.3 L156.5,656.1 L155.8,655.9 L155.7,656.5 L155.6,657.3 L155.4,658.0 L155.1,658.6 L154.7,659.1 L154.2,659.3 L153.7,659.4 L153.1,659.3 L152.5,658.9 L152.0,658.4 L151.6,657.8 L151.2,657.1 L150.7,657.5 L150.1,658.0 L149.5,658.4 L148.9,658.6 L148.2,658.6 L147.7,658.5 L147.2,658.1 L146.9,657.6 L146.7,657.0 L146.7,656.3 L146.9,655.5 L147.1,654.8 L146.5,654.7 L145.7,654.6 L145.0,654.4 L144.4,654.1 L143.9,653.7 L143.7,653.2 L143.6,652.7 L143.7,652.1 L144.1,651.5 L144.6,651.0 L145.2,650.6 L145.9,650.2 L145.5,649.7 L145.0,649.1 L144.6,648.5 L144.4,647.9 L144.4,647.2 L144.5,646.7 L144.9,646.2 L145.4,645.9 L146.0,645.7 L146.7,645.7 L147.5,645.9 L148.2,646.1 L148.3,645.5 L148.4,644.7 L148.6,644.0 L148.9,643.4 L149.3,642.9 L149.8,642.7 L150.3,642.6 L150.9,642.7 L151.5,643.1 L152.0,643.6 L152.4,644.2 L152.8,644.9 L153.3,644.5 L153.9,644.0 L154.5,643.6 L155.1,643.4 L155.8,643.4 L156.3,643.5 L156.8,643.9 L157.1,644.4 L157.3,645.0 L157.3,645.7 L157.1,646.5 L156.9,647.2 L157.5,647.3 L158.3,647.4 L159.0,647.6 L159.6,647.9 L160.1,648.3 L160.3,648.8 L160.4,649.3 L160.3,649.9 L159.9,650.5 L159.4,651.0Z" fill="#a8a8a8" stroke="#636363" stroke-width="2"/>
<path d="M157.7,651.0 L157.5,651.4 L157.2,651.7 L156.8,652.0 L156.4,652.2 L155.9,652.3 L156.0,652.6 L156.2,653.1 L156.4,653.5 L156.4,654.0 L156.4,654.4 L156.3,654.8 L156.1,655.1 L155.8,655.3 L155.4,655.5 L155.0,655.5 L154.6,655.5 L154.1,655.3 L153.7,655.1 L153.3,654.8 L153.1,655.3 L152.9,655.7 L152.7,656.1 L152.4,656.4 L152.0,656.6 L151.6,656.7 L151.2,656.7 L150.9,656.6 L150.6,656.4 L150.3,656.1 L150.1,655.7 L149.9,655.2 L149.8,654.8 L149.7,654.4 L149.3,654.6 L148.8,654.7 L148.3,654.7 L147.9,654.6 L147.5,654.4 L147.2,654.2 L147.0,653.9 L146.9,653.5 L146.9,653.1 L147.0,652.7 L147.2,652.3 L147.5,651.9 L147.8,651.6 L147.8,651.3 L147.4,651.0 L147.0,650.7 L146.8,650.3 L146.6,649.9 L146.5,649.5 L146.6,649.2 L146.7,648.8 L146.9,648.5 L147.3,648.3 L147.7,648.1 L148.1,648.0 L148.6,648.0 L149.1,648.1 L149.1,647.7 L149.1,647.2 L149.2,646.8 L149.3,646.4 L149.5,646.0 L149.8,645.7 L150.1,645.5 L150.5,645.5 L150.9,645.5 L151.3,645.7 L151.7,645.9 L152.0,646.2 L152.3,646.6 L152.5,647.0 L152.9,646.6 L153.3,646.3 L153.7,646.1 L154.1,646.0 L154.5,646.0 L154.9,646.0 L155.2,646.2 L155.5,646.5 L155.7,646.8 L155.8,647.2 L155.8,647.7 L155.7,648.2 L155.6,648.6 L155.6,648.9 L156.1,649.0 L156.6,649.1 L157.0,649.3 L157.3,649.6 L157.6,649.9 L157.7,650.2 L157.7,650.6 L157.7,651.0Z" fill="#808080" stroke="#636363" stroke-width="1.8"/>
<path d="M155.1,651.0 L155.0,651.2 L154.9,651.4 L154.8,651.6 L154.7,651.7 L154.5,651.8 L154.3,652.0 L154.1,652.0 L153.9,652.1 L153.9,652.3 L154.0,652.5 L154.0,652.7 L153.9,652.9 L153.9,653.1 L153.8,653.3 L153.7,653.5 L153.5,653.7 L153.4,653.8 L153.2,653.9 L153.0,653.9 L152.8,653.9 L152.6,653.9 L152.4,653.9 L152.2,653.8 L152.0,653.7 L151.8,653.5 L151.7,653.4 L151.6,653.2 L151.4,653.2 L151.2,653.3 L151.0,653.4 L150.8,653.4 L150.6,653.5 L150.4,653.4 L150.2,653.4 L150.0,653.3 L149.8,653.2 L149.7,653.1 L149.5,652.9 L149.5,652.7 L149.4,652.5 L149.4,652.3 L149.4,652.1 L149.5,651.9 L149.5,651.7 L149.6,651.5 L149.8,651.3 L149.7,651.1 L149.6,651.0 L149.4,650.8 L149.3,650.6 L149.2,650.5 L149.2,650.2 L149.2,650.0 L149.2,649.8 L149.2,649.6 L149.3,649.4 L149.4,649.3 L149.6,649.1 L149.7,649.0 L149.9,648.9 L150.1,648.9 L150.3,648.8 L150.6,648.9 L150.8,648.9 L151.0,648.9 L151.1,648.9 L151.2,648.7 L151.3,648.6 L151.5,648.4 L151.6,648.2 L151.8,648.1 L152.0,648.0 L152.2,648.0 L152.4,647.9 L152.6,647.9 L152.8,648.0 L153.0,648.1 L153.2,648.2 L153.3,648.4 L153.4,648.5 L153.5,648.7 L153.6,648.9 L153.6,649.1 L153.6,649.4 L153.7,649.5 L153.9,649.6 L154.1,649.6 L154.3,649.7 L154.5,649.8 L154.7,649.9 L154.8,650.0 L154.9,650.2 L155.0,650.4 L155.1,650.6 L155.1,650.8 L155.1,651.0Z" fill="#6a6a6a" stroke="#636363" stroke-width="1.5"/>
<path d="M165,404 V398 Q165,394.4 161,394.4 H110 Q106,394.4 106,398.4 V631.4 Q106,635.4 110,635.4 H161 Q165,635.4 165,631.4 V625" fill="none" stroke="#636363" stroke-width="2" />
<rect x="117.5" y="404.3" width="280.5" height="220.5" rx="6" fill="none" stroke="#636363" stroke-width="2" />
<path d="M125,409 Q260,407 392.7,409 Q394,515 392,620 Q260,622 125,620 Q123,515 125,409Z" fill="none" stroke="#636363" stroke-width="2.2" />
<path d="M127,412 L155,412 L152,505 L126,506 Z" fill="none" stroke="#636363" stroke-width="2" />
<path d="M151,412 L188,413 L191,430 L188,504 L150,506 L154,440Z" fill="none" stroke="#636363" stroke-width="2" />
<path d="M126,514 L150,513 L149,608 L125,609Z" fill="none" stroke="#636363" stroke-width="2" />
<path d="M150,514 L184,513 L189,528 L186,606 L149,608Z" fill="none" stroke="#636363" stroke-width="2" />
<path d="M205,397.5 Q228,388 255,401.3 L238.4,629.4 Q215,641 193.5,634 Z" fill="#fff" stroke="#636363" stroke-width="2.2" />
<rect x="498.3" y="402.7" width="7.4" height="223.7" rx="0" fill="none" stroke="#636363" stroke-width="2" />
<path d="M461.0,372.0 L458.0,369.4 L455.1,366.8 L452.3,364.1 L449.5,361.4 L446.8,358.5 L444.2,355.6 L441.7,352.6 L439.2,349.6 L436.8,346.5 L434.4,343.3" fill="none" stroke="#636363" stroke-width="2"/>
<ellipse cx="451.7" cy="360.0" rx="5.3" ry="2.0" transform="rotate(-103.6 451.7 360.0)" fill="#fff" stroke="#636363" stroke-width="1.8"/>
<ellipse cx="448.1" cy="364.0" rx="5.3" ry="2.0" transform="rotate(-172.4 448.1 364.0)" fill="#fff" stroke="#636363" stroke-width="1.8"/>
<ellipse cx="448.6" cy="357.0" rx="4.9" ry="1.9" transform="rotate(-102.8 448.6 357.0)" fill="#fff" stroke="#636363" stroke-width="1.8"/>
<ellipse cx="445.2" cy="360.7" rx="4.9" ry="1.9" transform="rotate(-171.5 445.2 360.7)" fill="#fff" stroke="#636363" stroke-width="1.8"/>
<ellipse cx="445.5" cy="354.0" rx="4.4" ry="1.8" transform="rotate(-101.9 445.5 354.0)" fill="#fff" stroke="#636363" stroke-width="1.8"/>
<ellipse cx="442.4" cy="357.3" rx="4.4" ry="1.8" transform="rotate(-170.7 442.4 357.3)" fill="#fff" stroke="#636363" stroke-width="1.8"/>
<ellipse cx="442.5" cy="350.9" rx="3.9" ry="1.7" transform="rotate(-101.0 442.5 350.9)" fill="#fff" stroke="#636363" stroke-width="1.8"/>
<ellipse cx="439.7" cy="353.8" rx="3.9" ry="1.7" transform="rotate(-169.8 439.7 353.8)" fill="#fff" stroke="#636363" stroke-width="1.8"/>
<ellipse cx="439.6" cy="347.7" rx="3.5" ry="1.6" transform="rotate(-100.2 439.6 347.7)" fill="#fff" stroke="#636363" stroke-width="1.8"/>
<ellipse cx="437.1" cy="350.2" rx="3.5" ry="1.6" transform="rotate(-168.9 437.1 350.2)" fill="#fff" stroke="#636363" stroke-width="1.8"/>
<ellipse cx="436.8" cy="344.4" rx="3.0" ry="1.5" transform="rotate(-99.3 436.8 344.4)" fill="#fff" stroke="#636363" stroke-width="1.8"/>
<ellipse cx="434.6" cy="346.6" rx="3.0" ry="1.5" transform="rotate(-168.1 434.6 346.6)" fill="#fff" stroke="#636363" stroke-width="1.8"/>
<ellipse cx="435.3" cy="344.6" rx="4.7" ry="3.0" transform="rotate(-132.8 435.3 344.6)" fill="#fff" stroke="#636363" stroke-width="1.8"/>
<path d="M461.0,372.0 L460.6,367.8 L460.0,363.5 L459.4,359.3 L458.7,355.1 L457.8,351.0 L456.9,346.8 L455.8,342.7 L454.7,338.6 L453.4,334.5 L452.0,330.4" fill="none" stroke="#636363" stroke-width="2"/>
<ellipse cx="462.0" cy="355.5" rx="5.8" ry="2.1" transform="rotate(-62.6 462.0 355.5)" fill="#fff" stroke="#636363" stroke-width="1.8"/>
<ellipse cx="456.1" cy="356.2" rx="5.8" ry="2.1" transform="rotate(-131.4 456.1 356.2)" fill="#fff" stroke="#636363" stroke-width="1.8"/>
<ellipse cx="460.8" cy="350.8" rx="5.3" ry="2.0" transform="rotate(-63.5 460.8 350.8)" fill="#fff" stroke="#636363" stroke-width="1.8"/>
<ellipse cx="455.4" cy="351.6" rx="5.3" ry="2.0" transform="rotate(-132.2 455.4 351.6)" fill="#fff" stroke="#636363" stroke-width="1.8"/>
<ellipse cx="459.5" cy="346.2" rx="4.8" ry="1.8" transform="rotate(-64.3 459.5 346.2)" fill="#fff" stroke="#636363" stroke-width="1.8"/>
<ellipse cx="454.7" cy="347.0" rx="4.8" ry="1.8" transform="rotate(-133.1 454.7 347.0)" fill="#fff" stroke="#636363" stroke-width="1.8"/>
<ellipse cx="458.1" cy="341.6" rx="4.3" ry="1.7" transform="rotate(-65.2 458.1 341.6)" fill="#fff" stroke="#636363" stroke-width="1.8"/>
<ellipse cx="453.8" cy="342.4" rx="4.3" ry="1.7" transform="rotate(-134.0 453.8 342.4)" fill="#fff" stroke="#636363" stroke-width="1.8"/>
<ellipse cx="456.5" cy="337.1" rx="3.8" ry="1.6" transform="rotate(-66.1 456.5 337.1)" fill="#fff" stroke="#636363" stroke-width="1.8"/>
<ellipse cx="452.7" cy="337.8" rx="3.8" ry="1.6" transform="rotate(-134.8 452.7 337.8)" fill="#fff" stroke="#636363" stroke-width="1.8"/>
<ellipse cx="454.8" cy="332.6" rx="3.2" ry="1.5" transform="rotate(-66.9 454.8 332.6)" fill="#fff" stroke="#636363" stroke-width="1.8"/>
<ellipse cx="451.5" cy="333.2" rx="3.2" ry="1.5" transform="rotate(-135.7 451.5 333.2)" fill="#fff" stroke="#636363" stroke-width="1.8"/>
<ellipse cx="452.6" cy="332.0" rx="5.1" ry="3.1" transform="rotate(-102.2 452.6 332.0)" fill="#fff" stroke="#636363" stroke-width="1.8"/>
<path d="M461.0,372.0 L465.0,369.7 L469.1,367.6 L473.2,365.6 L477.4,363.6 L481.6,361.8 L485.9,360.0 L490.2,358.4 L494.5,356.9 L499.0,355.5 L503.4,354.1" fill="none" stroke="#636363" stroke-width="2"/>
<ellipse cx="478.0" cy="366.6" rx="6.3" ry="2.2" transform="rotate(6.4 478.0 366.6)" fill="#fff" stroke="#636363" stroke-width="1.8"/>
<ellipse cx="475.0" cy="360.9" rx="6.3" ry="2.2" transform="rotate(-62.4 475.0 360.9)" fill="#fff" stroke="#636363" stroke-width="1.8"/>
<ellipse cx="482.5" cy="364.3" rx="5.7" ry="2.0" transform="rotate(7.2 482.5 364.3)" fill="#fff" stroke="#636363" stroke-width="1.8"/>
<ellipse cx="479.9" cy="359.0" rx="5.7" ry="2.0" transform="rotate(-61.5 479.9 359.0)" fill="#fff" stroke="#636363" stroke-width="1.8"/>
<ellipse cx="487.1" cy="362.1" rx="5.2" ry="1.9" transform="rotate(8.1 487.1 362.1)" fill="#fff" stroke="#636363" stroke-width="1.8"/>
<ellipse cx="484.8" cy="357.3" rx="5.2" ry="1.9" transform="rotate(-60.7 484.8 357.3)" fill="#fff" stroke="#636363" stroke-width="1.8"/>
<ellipse cx="491.7" cy="360.0" rx="4.6" ry="1.8" transform="rotate(9.0 491.7 360.0)" fill="#fff" stroke="#636363" stroke-width="1.8"/>
<ellipse cx="489.7" cy="355.7" rx="4.6" ry="1.8" transform="rotate(-59.8 489.7 355.7)" fill="#fff" stroke="#636363" stroke-width="1.8"/>
<ellipse cx="496.4" cy="358.1" rx="4.1" ry="1.7" transform="rotate(9.8 496.4 358.1)" fill="#fff" stroke="#636363" stroke-width="1.8"/>
<ellipse cx="494.7" cy="354.3" rx="4.1" ry="1.7" transform="rotate(-58.9 494.7 354.3)" fill="#fff" stroke="#636363" stroke-width="1.8"/>
<ellipse cx="501.2" cy="356.3" rx="3.5" ry="1.6" transform="rotate(10.7 501.2 356.3)" fill="#fff" stroke="#636363" stroke-width="1.8"/>
<ellipse cx="499.8" cy="353.0" rx="3.5" ry="1.6" transform="rotate(-58.1 499.8 353.0)" fill="#fff" stroke="#636363" stroke-width="1.8"/>
<ellipse cx="501.6" cy="354.6" rx="5.5" ry="3.3" transform="rotate(-22.8 501.6 354.6)" fill="#fff" stroke="#636363" stroke-width="1.8"/>
<path d="M461.0,372.0 L464.7,373.7 L468.5,375.3 L472.3,376.8 L476.1,378.2 L480.0,379.5 L483.9,380.7 L487.9,381.8 L491.8,382.8 L495.8,383.7 L499.9,384.5" fill="none" stroke="#636363" stroke-width="2"/>
<ellipse cx="474.3" cy="380.7" rx="5.6" ry="2.0" transform="rotate(57.4 474.3 380.7)" fill="#fff" stroke="#636363" stroke-width="1.8"/>
<ellipse cx="476.5" cy="375.5" rx="5.6" ry="2.0" transform="rotate(-11.4 476.5 375.5)" fill="#fff" stroke="#636363" stroke-width="1.8"/>
<ellipse cx="478.7" cy="382.0" rx="5.1" ry="1.9" transform="rotate(56.5 478.7 382.0)" fill="#fff" stroke="#636363" stroke-width="1.8"/>
<ellipse cx="480.6" cy="377.2" rx="5.1" ry="1.9" transform="rotate(-12.2 480.6 377.2)" fill="#fff" stroke="#636363" stroke-width="1.8"/>
<ellipse cx="483.1" cy="383.1" rx="4.6" ry="1.8" transform="rotate(55.7 483.1 383.1)" fill="#fff" stroke="#636363" stroke-width="1.8"/>
<ellipse cx="484.8" cy="378.8" rx="4.6" ry="1.8" transform="rotate(-13.1 484.8 378.8)" fill="#fff" stroke="#636363" stroke-width="1.8"/>
<ellipse cx="487.6" cy="384.2" rx="4.1" ry="1.7" transform="rotate(54.8 487.6 384.2)" fill="#fff" stroke="#636363" stroke-width="1.8"/>
<ellipse cx="489.1" cy="380.2" rx="4.1" ry="1.7" transform="rotate(-14.0 489.1 380.2)" fill="#fff" stroke="#636363" stroke-width="1.8"/>
<ellipse cx="492.2" cy="385.0" rx="3.6" ry="1.6" transform="rotate(53.9 492.2 385.0)" fill="#fff" stroke="#636363" stroke-width="1.8"/>
<ellipse cx="493.4" cy="381.5" rx="3.6" ry="1.6" transform="rotate(-14.8 493.4 381.5)" fill="#fff" stroke="#636363" stroke-width="1.8"/>
<ellipse cx="496.7" cy="385.8" rx="3.1" ry="1.5" transform="rotate(53.1 496.7 385.8)" fill="#fff" stroke="#636363" stroke-width="1.8"/>
<ellipse cx="497.8" cy="382.8" rx="3.1" ry="1.5" transform="rotate(-15.7 497.8 382.8)" fill="#fff" stroke="#636363" stroke-width="1.8"/>
<ellipse cx="498.2" cy="384.2" rx="4.9" ry="3.0" transform="rotate(17.8 498.2 384.2)" fill="#fff" stroke="#636363" stroke-width="1.8"/>
<path d="M461.0,372.0 L462.5,376.2 L463.8,380.4 L465.1,384.6 L466.2,388.9 L467.3,393.2 L468.2,397.6 L469.0,401.9 L469.7,406.3 L470.3,410.7 L470.8,415.2" fill="none" stroke="#636363" stroke-width="2"/>
<ellipse cx="463.3" cy="389.1" rx="6.0" ry="2.1" transform="rotate(106.4 463.3 389.1)" fill="#fff" stroke="#636363" stroke-width="1.8"/>
<ellipse cx="469.2" cy="387.1" rx="6.0" ry="2.1" transform="rotate(37.6 469.2 387.1)" fill="#fff" stroke="#636363" stroke-width="1.8"/>
<ellipse cx="464.7" cy="393.7" rx="5.5" ry="2.0" transform="rotate(107.2 464.7 393.7)" fill="#fff" stroke="#636363" stroke-width="1.8"/>
<ellipse cx="470.1" cy="392.0" rx="5.5" ry="2.0" transform="rotate(38.5 470.1 392.0)" fill="#fff" stroke="#636363" stroke-width="1.8"/>
<ellipse cx="466.0" cy="398.4" rx="5.0" ry="1.9" transform="rotate(108.1 466.0 398.4)" fill="#fff" stroke="#636363" stroke-width="1.8"/>
<ellipse cx="471.0" cy="397.0" rx="5.0" ry="1.9" transform="rotate(39.3 471.0 397.0)" fill="#fff" stroke="#636363" stroke-width="1.8"/>
<ellipse cx="467.2" cy="403.1" rx="4.4" ry="1.8" transform="rotate(109.0 467.2 403.1)" fill="#fff" stroke="#636363" stroke-width="1.8"/>
<ellipse cx="471.6" cy="401.9" rx="4.4" ry="1.8" transform="rotate(40.2 471.6 401.9)" fill="#fff" stroke="#636363" stroke-width="1.8"/>
<ellipse cx="468.3" cy="407.9" rx="3.9" ry="1.7" transform="rotate(109.8 468.3 407.9)" fill="#fff" stroke="#636363" stroke-width="1.8"/>
<ellipse cx="472.1" cy="406.9" rx="3.9" ry="1.7" transform="rotate(41.1 472.1 406.9)" fill="#fff" stroke="#636363" stroke-width="1.8"/>
<ellipse cx="469.1" cy="412.7" rx="3.4" ry="1.5" transform="rotate(110.7 469.1 412.7)" fill="#fff" stroke="#636363" stroke-width="1.8"/>
<ellipse cx="472.5" cy="411.9" rx="3.4" ry="1.5" transform="rotate(41.9 472.5 411.9)" fill="#fff" stroke="#636363" stroke-width="1.8"/>
<ellipse cx="470.7" cy="413.4" rx="5.3" ry="3.2" transform="rotate(77.2 470.7 413.4)" fill="#fff" stroke="#636363" stroke-width="1.8"/>
<path d="M461.0,372.0 L457.8,374.3 L454.7,376.6 L451.7,379.1 L448.7,381.6 L445.7,384.2 L442.8,386.9 L440.0,389.6 L437.3,392.4 L434.6,395.3 L432.0,398.2" fill="none" stroke="#636363" stroke-width="2"/>
<ellipse cx="447.4" cy="378.8" rx="5.3" ry="2.0" transform="rotate(177.4 447.4 378.8)" fill="#fff" stroke="#636363" stroke-width="1.8"/>
<ellipse cx="450.7" cy="383.2" rx="5.3" ry="2.0" transform="rotate(108.6 450.7 383.2)" fill="#fff" stroke="#636363" stroke-width="1.8"/>
<ellipse cx="444.2" cy="381.9" rx="4.9" ry="1.9" transform="rotate(176.5 444.2 381.9)" fill="#fff" stroke="#636363" stroke-width="1.8"/>
<ellipse cx="447.3" cy="385.8" rx="4.9" ry="1.9" transform="rotate(107.8 447.3 385.8)" fill="#fff" stroke="#636363" stroke-width="1.8"/>
<ellipse cx="441.2" cy="385.0" rx="4.4" ry="1.8" transform="rotate(175.7 441.2 385.0)" fill="#fff" stroke="#636363" stroke-width="1.8"/>
<ellipse cx="444.0" cy="388.5" rx="4.4" ry="1.8" transform="rotate(106.9 444.0 388.5)" fill="#fff" stroke="#636363" stroke-width="1.8"/>
<ellipse cx="438.2" cy="388.3" rx="3.9" ry="1.7" transform="rotate(174.8 438.2 388.3)" fill="#fff" stroke="#636363" stroke-width="1.8"/>
<ellipse cx="440.7" cy="391.4" rx="3.9" ry="1.7" transform="rotate(106.0 440.7 391.4)" fill="#fff" stroke="#636363" stroke-width="1.8"/>
<ellipse cx="435.3" cy="391.6" rx="3.5" ry="1.6" transform="rotate(173.9 435.3 391.6)" fill="#fff" stroke="#636363" stroke-width="1.8"/>
<ellipse cx="437.6" cy="394.3" rx="3.5" ry="1.6" transform="rotate(105.2 437.6 394.3)" fill="#fff" stroke="#636363" stroke-width="1.8"/>
<ellipse cx="432.5" cy="395.0" rx="3.0" ry="1.5" transform="rotate(173.1 432.5 395.0)" fill="#fff" stroke="#636363" stroke-width="1.8"/>
<ellipse cx="434.5" cy="397.3" rx="3.0" ry="1.5" transform="rotate(104.3 434.5 397.3)" fill="#fff" stroke="#636363" stroke-width="1.8"/>
<ellipse cx="433.0" cy="397.0" rx="4.7" ry="3.0" transform="rotate(137.8 433.0 397.0)" fill="#fff" stroke="#636363" stroke-width="1.8"/>
<rect x="106.7" y="719.6" width="84" height="281.5" rx="0" fill="none" stroke="#636363" stroke-width="2" />
<rect x="190.6" y="719.6" width="145.8" height="83.8" rx="0" fill="none" stroke="#636363" stroke-width="2" />
<use href="#hg" transform="translate(148.7,763.7) rotate(0) scale(1.0)" fill="none" stroke="#636363" stroke-width="2"/>
<use href="#hg" transform="translate(148.7,807.7) rotate(0) scale(1.0)" fill="none" stroke="#636363" stroke-width="2"/>
<use href="#hg" transform="translate(148.7,851.7) rotate(0) scale(1.0)" fill="none" stroke="#636363" stroke-width="2"/>
<use href="#hg" transform="translate(148.7,895.7) rotate(0) scale(1.0)" fill="none" stroke="#636363" stroke-width="2"/>
<use href="#hg" transform="translate(148.7,939.7) rotate(0) scale(1.0)" fill="none" stroke="#636363" stroke-width="2"/>
<use href="#hg" transform="translate(148.7,983.7) rotate(0) scale(1.0)" fill="none" stroke="#636363" stroke-width="2"/>
<use href="#hv" transform="translate(197.4,729.6) scale(1.0)" fill="none" stroke="#636363" stroke-width="1.8"/>
<use href="#hv" transform="translate(220.70000000000002,729.6) scale(1.0)" fill="none" stroke="#636363" stroke-width="1.8"/>
<use href="#hv" transform="translate(244.0,729.6) scale(1.0)" fill="none" stroke="#636363" stroke-width="1.8"/>
<use href="#hv" transform="translate(267.3,729.6) scale(1.0)" fill="none" stroke="#636363" stroke-width="1.8"/>
<use href="#hv" transform="translate(290.6,729.6) scale(1.0)" fill="none" stroke="#636363" stroke-width="1.8"/>
<use href="#hv" transform="translate(313.9,729.6) scale(1.0)" fill="none" stroke="#636363" stroke-width="1.8"/>
<line x1="527" y1="411.7" x2="929" y2="411.7" stroke="#636363" stroke-width="2" />
<line x1="664.4" y1="327" x2="664.4" y2="411.7" stroke="#636363" stroke-width="2" />
<line x1="845.8" y1="327" x2="845.8" y2="705" stroke="#636363" stroke-width="2" />
<line x1="845.8" y1="507.5" x2="929" y2="507.5" stroke="#636363" stroke-width="2" />
<path d="M587.0,357.0 L586.8,358.6 L586.1,360.0 L584.9,361.4 L583.5,362.5 L581.7,363.4 L579.8,364.0 L578.3,364.5 L579.2,366.3 L579.8,368.2 L580.1,370.1 L580.0,371.9 L579.6,373.6 L578.8,375.0 L577.6,376.0 L576.2,376.7 L574.5,376.9 L572.8,376.8 L571.0,376.2 L569.2,375.3 L567.6,374.1 L566.4,374.2 L565.5,376.0 L564.3,377.6 L563.0,378.9 L561.5,379.9 L559.9,380.4 L558.3,380.5 L556.8,380.1 L555.4,379.3 L554.3,378.1 L553.4,376.5 L552.8,374.7 L552.5,372.7 L552.5,370.7 L551.1,370.5 L549.2,370.8 L547.2,370.8 L545.4,370.5 L543.8,369.9 L542.4,368.9 L541.5,367.6 L541.0,366.1 L540.9,364.5 L541.3,362.8 L542.0,361.2 L543.2,359.6 L544.6,358.2 L546.2,357.0 L544.6,355.8 L543.2,354.4 L542.0,352.8 L541.3,351.2 L540.9,349.5 L541.0,347.9 L541.5,346.4 L542.4,345.1 L543.8,344.1 L545.4,343.5 L547.2,343.2 L549.2,343.2 L551.1,343.5 L552.5,343.3 L552.5,341.3 L552.8,339.3 L553.4,337.5 L554.3,335.9 L555.4,334.7 L556.8,333.9 L558.3,333.5 L559.9,333.6 L561.5,334.1 L563.0,335.1 L564.3,336.4 L565.5,338.0 L566.4,339.8 L567.6,339.9 L569.2,338.7 L571.0,337.8 L572.8,337.2 L574.5,337.1 L576.2,337.3 L577.6,338.0 L578.8,339.0 L579.6,340.4 L580.0,342.1 L580.1,343.9 L579.8,345.8 L579.2,347.7 L578.3,349.5 L579.8,350.0 L581.7,350.6 L583.5,351.5 L584.9,352.6 L586.1,354.0 L586.8,355.4 L587.0,357.0Z" fill="#f4f4f4" stroke="#636363" stroke-width="2.2"/>
<path d="M577.9,357.0 L576.6,357.9 L575.2,358.6 L575.9,359.6 L577.0,360.7 L577.8,362.0 L578.2,363.3 L578.3,364.5 L578.0,365.6 L577.3,366.5 L576.3,367.2 L575.0,367.5 L573.5,367.5 L572.0,367.3 L570.5,366.8 L570.3,368.0 L570.2,369.5 L569.9,371.0 L569.3,372.2 L568.5,373.1 L567.5,373.7 L566.3,373.8 L565.2,373.6 L564.0,372.9 L563.0,371.9 L562.1,370.6 L561.4,369.2 L560.4,369.9 L559.3,371.0 L558.0,371.8 L556.7,372.2 L555.5,372.3 L554.4,372.0 L553.5,371.3 L552.8,370.3 L552.5,369.0 L552.5,367.5 L552.7,366.0 L553.2,364.5 L552.0,364.3 L550.5,364.2 L549.0,363.9 L547.8,363.3 L546.9,362.5 L546.3,361.5 L546.2,360.3 L546.4,359.2 L547.1,358.0 L548.1,357.0 L549.4,356.1 L550.8,355.4 L550.1,354.4 L549.0,353.3 L548.2,352.0 L547.8,350.7 L547.7,349.5 L548.0,348.4 L548.7,347.5 L549.7,346.8 L551.0,346.5 L552.5,346.5 L554.0,346.7 L555.5,347.2 L555.7,346.0 L555.8,344.5 L556.1,343.0 L556.7,341.8 L557.5,340.9 L558.5,340.3 L559.7,340.2 L560.8,340.4 L562.0,341.1 L563.0,342.1 L563.9,343.4 L564.6,344.8 L565.6,344.1 L566.7,343.0 L568.0,342.2 L569.3,341.8 L570.5,341.7 L571.6,342.0 L572.5,342.7 L573.2,343.7 L573.5,345.0 L573.5,346.5 L573.3,348.0 L572.8,349.5 L574.0,349.7 L575.5,349.8 L577.0,350.1 L578.2,350.7 L579.1,351.5 L579.7,352.5 L579.8,353.7 L579.6,354.8 L578.9,356.0 L577.9,357.0Z" fill="#a8a8a8" stroke="#636363" stroke-width="2"/>
<path d="M574.3,357.0 L573.9,357.7 L573.4,358.4 L572.6,358.9 L571.8,359.4 L570.9,359.7 L570.9,360.3 L571.4,361.1 L571.7,362.0 L571.8,362.9 L571.8,363.8 L571.6,364.5 L571.1,365.1 L570.6,365.6 L569.8,365.9 L569.0,366.0 L568.1,365.9 L567.3,365.6 L566.4,365.2 L565.6,364.7 L565.3,365.5 L564.9,366.4 L564.3,367.1 L563.7,367.8 L563.0,368.2 L562.3,368.4 L561.5,368.4 L560.8,368.2 L560.1,367.7 L559.6,367.1 L559.1,366.3 L558.8,365.4 L558.7,364.5 L558.4,363.9 L557.5,364.2 L556.6,364.3 L555.6,364.4 L554.8,364.2 L554.0,363.9 L553.4,363.4 L553.0,362.8 L552.8,362.0 L552.8,361.2 L553.0,360.4 L553.4,359.6 L554.0,358.8 L554.6,358.1 L554.5,357.6 L553.8,357.0 L553.1,356.3 L552.5,355.6 L552.2,354.8 L552.0,354.1 L552.1,353.3 L552.4,352.6 L552.9,352.0 L553.6,351.6 L554.4,351.2 L555.3,351.1 L556.2,351.1 L557.2,351.2 L557.3,350.5 L557.2,349.5 L557.4,348.6 L557.6,347.7 L558.1,347.0 L558.6,346.4 L559.3,346.1 L560.0,346.0 L560.8,346.0 L561.6,346.3 L562.3,346.8 L563.0,347.5 L563.6,348.2 L564.1,348.9 L564.7,348.2 L565.5,347.7 L566.3,347.2 L567.2,347.0 L568.0,346.9 L568.7,347.1 L569.4,347.4 L569.9,348.0 L570.3,348.7 L570.5,349.5 L570.5,350.4 L570.4,351.3 L570.1,352.3 L570.2,352.8 L571.2,353.0 L572.1,353.2 L572.9,353.6 L573.6,354.2 L574.1,354.8 L574.4,355.5 L574.5,356.2 L574.3,357.0Z" fill="#808080" stroke="#636363" stroke-width="1.8"/>
<path d="M569.2,357.0 L569.1,357.4 L568.9,357.8 L568.6,358.1 L568.3,358.4 L568.0,358.7 L567.6,358.9 L567.2,359.1 L566.8,359.2 L566.9,359.6 L566.9,360.0 L566.9,360.4 L566.9,360.9 L566.8,361.3 L566.6,361.7 L566.4,362.0 L566.1,362.3 L565.8,362.6 L565.4,362.8 L565.0,362.9 L564.6,362.9 L564.2,362.9 L563.8,362.7 L563.4,362.6 L563.0,362.3 L562.7,362.0 L562.4,361.7 L562.1,361.4 L561.8,361.4 L561.4,361.6 L561.0,361.8 L560.6,361.9 L560.2,361.9 L559.7,361.9 L559.3,361.8 L558.9,361.6 L558.6,361.4 L558.3,361.1 L558.1,360.8 L557.9,360.4 L557.8,360.0 L557.8,359.6 L557.8,359.2 L557.9,358.7 L558.1,358.3 L558.3,357.9 L558.5,357.6 L558.5,357.3 L558.2,357.0 L557.9,356.7 L557.7,356.3 L557.5,355.9 L557.4,355.5 L557.3,355.1 L557.3,354.7 L557.4,354.3 L557.6,353.9 L557.8,353.5 L558.1,353.3 L558.5,353.0 L558.9,352.9 L559.3,352.7 L559.7,352.7 L560.1,352.7 L560.6,352.8 L561.0,352.9 L561.3,352.9 L561.5,352.5 L561.7,352.1 L562.0,351.8 L562.3,351.5 L562.6,351.2 L563.0,351.0 L563.4,350.9 L563.8,350.9 L564.2,350.9 L564.6,351.0 L565.0,351.2 L565.3,351.4 L565.6,351.7 L565.9,352.1 L566.0,352.4 L566.2,352.9 L566.3,353.3 L566.3,353.7 L566.3,354.1 L566.7,354.1 L567.2,354.2 L567.6,354.4 L568.0,354.6 L568.3,354.8 L568.6,355.1 L568.9,355.4 L569.1,355.8 L569.2,356.2 L569.2,356.6 L569.2,357.0Z" fill="#6a6a6a" stroke="#636363" stroke-width="1.5"/>
<path d="M615.5,374.0 L615.3,375.1 L614.9,376.1 L614.1,377.0 L613.1,377.8 L611.9,378.4 L610.6,378.8 L609.5,379.2 L610.1,380.4 L610.5,381.7 L610.8,383.0 L610.7,384.3 L610.4,385.4 L609.8,386.4 L609.0,387.1 L608.0,387.5 L606.9,387.7 L605.7,387.6 L604.5,387.2 L603.3,386.6 L602.2,385.8 L601.3,385.8 L600.7,387.0 L599.9,388.1 L599.0,389.1 L598.0,389.7 L596.9,390.1 L595.8,390.2 L594.7,389.9 L593.8,389.3 L593.0,388.5 L592.4,387.4 L592.0,386.1 L591.8,384.8 L591.8,383.4 L590.9,383.3 L589.5,383.5 L588.1,383.5 L586.9,383.3 L585.8,382.8 L584.9,382.2 L584.2,381.3 L583.8,380.3 L583.8,379.2 L584.1,378.0 L584.6,376.9 L585.4,375.8 L586.4,374.8 L587.5,374.0 L586.4,373.2 L585.4,372.2 L584.6,371.1 L584.1,370.0 L583.8,368.8 L583.8,367.7 L584.2,366.7 L584.9,365.8 L585.8,365.2 L586.9,364.7 L588.1,364.5 L589.5,364.5 L590.9,364.7 L591.8,364.6 L591.8,363.2 L592.0,361.9 L592.4,360.6 L593.0,359.5 L593.8,358.7 L594.7,358.1 L595.8,357.8 L596.9,357.9 L598.0,358.3 L599.0,358.9 L599.9,359.9 L600.7,361.0 L601.3,362.2 L602.2,362.2 L603.3,361.4 L604.5,360.8 L605.7,360.4 L606.9,360.3 L608.0,360.5 L609.0,360.9 L609.8,361.6 L610.4,362.6 L610.7,363.7 L610.8,365.0 L610.5,366.3 L610.1,367.6 L609.5,368.8 L610.6,369.2 L611.9,369.6 L613.1,370.2 L614.1,371.0 L614.9,371.9 L615.3,372.9 L615.5,374.0Z" fill="#f4f4f4" stroke="#636363" stroke-width="2.2"/>
<path d="M609.2,374.0 L608.4,374.6 L607.4,375.1 L607.9,375.8 L608.6,376.6 L609.1,377.4 L609.5,378.3 L609.5,379.2 L609.3,379.9 L608.8,380.6 L608.1,381.0 L607.2,381.2 L606.2,381.2 L605.2,381.1 L604.2,380.7 L604.0,381.5 L604.0,382.6 L603.7,383.6 L603.3,384.5 L602.8,385.1 L602.1,385.5 L601.3,385.6 L600.5,385.4 L599.7,384.9 L599.0,384.2 L598.4,383.4 L597.9,382.4 L597.2,382.9 L596.4,383.6 L595.6,384.1 L594.7,384.5 L593.8,384.5 L593.1,384.3 L592.4,383.8 L592.0,383.1 L591.8,382.2 L591.8,381.2 L591.9,380.2 L592.3,379.2 L591.5,379.0 L590.4,379.0 L589.4,378.7 L588.5,378.3 L587.9,377.8 L587.5,377.1 L587.4,376.3 L587.6,375.5 L588.1,374.7 L588.8,374.0 L589.6,373.4 L590.6,372.9 L590.1,372.2 L589.4,371.4 L588.9,370.6 L588.5,369.7 L588.5,368.8 L588.7,368.1 L589.2,367.4 L589.9,367.0 L590.8,366.8 L591.8,366.8 L592.8,366.9 L593.8,367.3 L594.0,366.5 L594.0,365.4 L594.3,364.4 L594.7,363.5 L595.2,362.9 L595.9,362.5 L596.7,362.4 L597.5,362.6 L598.3,363.1 L599.0,363.8 L599.6,364.6 L600.1,365.6 L600.8,365.1 L601.6,364.4 L602.4,363.9 L603.3,363.5 L604.2,363.5 L604.9,363.7 L605.6,364.2 L606.0,364.9 L606.2,365.8 L606.2,366.8 L606.1,367.8 L605.7,368.8 L606.5,369.0 L607.6,369.0 L608.6,369.3 L609.5,369.7 L610.1,370.2 L610.5,370.9 L610.6,371.7 L610.4,372.5 L609.9,373.3 L609.2,374.0Z" fill="#a8a8a8" stroke="#636363" stroke-width="2"/>
<path d="M606.8,374.0 L606.5,374.5 L606.1,374.9 L605.6,375.3 L605.0,375.6 L604.4,375.8 L604.5,376.3 L604.8,376.8 L605.0,377.5 L605.1,378.1 L605.1,378.6 L604.9,379.2 L604.6,379.6 L604.2,379.9 L603.7,380.1 L603.1,380.2 L602.5,380.1 L601.9,379.9 L601.3,379.6 L600.8,379.3 L600.6,379.9 L600.3,380.4 L599.9,381.0 L599.5,381.4 L599.0,381.7 L598.5,381.9 L598.0,381.9 L597.5,381.7 L597.0,381.4 L596.6,381.0 L596.3,380.4 L596.1,379.8 L596.0,379.2 L595.8,378.7 L595.2,378.9 L594.6,379.0 L593.9,379.1 L593.4,378.9 L592.8,378.7 L592.4,378.4 L592.1,378.0 L592.0,377.5 L592.0,376.9 L592.1,376.3 L592.4,375.8 L592.8,375.2 L593.2,374.8 L593.2,374.4 L592.6,374.0 L592.2,373.6 L591.8,373.1 L591.6,372.5 L591.5,372.0 L591.5,371.5 L591.7,371.0 L592.1,370.6 L592.5,370.3 L593.1,370.0 L593.7,369.9 L594.4,369.9 L595.0,370.0 L595.1,369.5 L595.0,368.8 L595.1,368.2 L595.3,367.6 L595.6,367.1 L596.0,366.7 L596.5,366.5 L597.0,366.4 L597.5,366.5 L598.0,366.7 L598.5,367.0 L599.0,367.5 L599.4,368.0 L599.7,368.4 L600.2,368.0 L600.7,367.6 L601.3,367.3 L601.9,367.1 L602.4,367.1 L602.9,367.2 L603.4,367.4 L603.8,367.8 L604.0,368.3 L604.2,368.8 L604.2,369.5 L604.1,370.1 L603.9,370.7 L604.0,371.1 L604.6,371.2 L605.3,371.4 L605.8,371.7 L606.3,372.0 L606.6,372.5 L606.8,373.0 L606.9,373.5 L606.8,374.0Z" fill="#808080" stroke="#636363" stroke-width="1.8"/>
<path d="M603.2,374.0 L603.2,374.3 L603.0,374.5 L602.9,374.8 L602.7,375.0 L602.4,375.2 L602.2,375.3 L601.9,375.4 L601.6,375.5 L601.7,375.8 L601.7,376.1 L601.7,376.4 L601.7,376.7 L601.6,377.0 L601.5,377.2 L601.3,377.5 L601.1,377.7 L600.9,377.8 L600.6,378.0 L600.4,378.0 L600.1,378.1 L599.8,378.0 L599.5,377.9 L599.3,377.8 L599.0,377.7 L598.8,377.5 L598.6,377.2 L598.4,377.0 L598.2,377.0 L597.9,377.2 L597.6,377.3 L597.3,377.4 L597.0,377.4 L596.8,377.4 L596.5,377.3 L596.2,377.2 L596.0,377.0 L595.8,376.8 L595.6,376.6 L595.5,376.3 L595.4,376.1 L595.4,375.8 L595.4,375.5 L595.5,375.2 L595.6,374.9 L595.8,374.6 L595.9,374.4 L595.9,374.2 L595.7,374.0 L595.5,373.8 L595.3,373.5 L595.2,373.2 L595.1,373.0 L595.1,372.7 L595.1,372.4 L595.2,372.1 L595.3,371.9 L595.4,371.6 L595.6,371.4 L595.9,371.3 L596.1,371.1 L596.4,371.1 L596.7,371.0 L597.0,371.0 L597.3,371.1 L597.6,371.2 L597.8,371.2 L597.9,370.9 L598.1,370.6 L598.3,370.4 L598.5,370.2 L598.7,370.0 L599.0,369.9 L599.3,369.8 L599.6,369.8 L599.8,369.8 L600.1,369.9 L600.4,370.0 L600.6,370.2 L600.8,370.4 L601.0,370.6 L601.1,370.9 L601.2,371.2 L601.2,371.5 L601.3,371.7 L601.3,372.0 L601.6,372.0 L601.9,372.1 L602.1,372.2 L602.4,372.3 L602.7,372.5 L602.9,372.7 L603.0,372.9 L603.2,373.2 L603.2,373.4 L603.3,373.7 L603.2,374.0Z" fill="#6a6a6a" stroke="#636363" stroke-width="1.5"/>
<path d="M925.5,355.5 L925.3,357.0 L924.6,358.4 L923.5,359.7 L922.1,360.8 L920.4,361.6 L918.6,362.2 L917.1,362.7 L918.0,364.4 L918.6,366.3 L918.9,368.1 L918.8,369.8 L918.4,371.4 L917.6,372.7 L916.5,373.7 L915.1,374.4 L913.5,374.6 L911.8,374.5 L910.1,373.9 L908.5,373.0 L906.9,371.9 L905.8,372.0 L904.9,373.7 L903.8,375.2 L902.5,376.5 L901.1,377.4 L899.5,377.9 L898.0,378.0 L896.6,377.7 L895.2,376.9 L894.1,375.7 L893.3,374.2 L892.7,372.4 L892.4,370.6 L892.4,368.6 L891.1,368.4 L889.2,368.8 L887.4,368.8 L885.6,368.5 L884.1,367.8 L882.8,366.9 L881.9,365.7 L881.4,364.3 L881.3,362.7 L881.7,361.1 L882.4,359.5 L883.5,358.0 L884.9,356.7 L886.4,355.5 L884.9,354.3 L883.5,353.0 L882.4,351.5 L881.7,349.9 L881.3,348.3 L881.4,346.7 L881.9,345.3 L882.8,344.1 L884.1,343.2 L885.6,342.5 L887.4,342.2 L889.2,342.2 L891.1,342.6 L892.4,342.4 L892.4,340.4 L892.7,338.6 L893.3,336.8 L894.1,335.3 L895.2,334.1 L896.6,333.3 L898.0,333.0 L899.5,333.1 L901.1,333.6 L902.5,334.5 L903.8,335.8 L904.9,337.3 L905.8,339.0 L906.9,339.1 L908.5,338.0 L910.1,337.1 L911.8,336.5 L913.5,336.4 L915.1,336.6 L916.5,337.3 L917.6,338.3 L918.4,339.6 L918.8,341.2 L918.9,342.9 L918.6,344.7 L918.0,346.6 L917.1,348.3 L918.6,348.8 L920.4,349.4 L922.1,350.2 L923.5,351.3 L924.6,352.6 L925.3,354.0 L925.5,355.5Z" fill="#f4f4f4" stroke="#636363" stroke-width="2.2"/>
<path d="M916.8,355.5 L915.6,356.4 L914.2,357.0 L914.9,358.0 L915.9,359.1 L916.6,360.3 L917.1,361.5 L917.1,362.7 L916.8,363.8 L916.2,364.6 L915.2,365.2 L914.0,365.6 L912.6,365.6 L911.1,365.4 L909.7,364.9 L909.5,366.0 L909.4,367.5 L909.1,368.9 L908.5,370.1 L907.7,371.0 L906.8,371.5 L905.7,371.6 L904.6,371.4 L903.5,370.7 L902.5,369.8 L901.6,368.6 L901.0,367.2 L900.0,367.9 L898.9,368.9 L897.7,369.6 L896.5,370.1 L895.3,370.1 L894.2,369.8 L893.4,369.2 L892.8,368.2 L892.4,367.0 L892.4,365.6 L892.6,364.1 L893.1,362.7 L892.0,362.5 L890.5,362.4 L889.1,362.1 L887.9,361.5 L887.0,360.7 L886.5,359.8 L886.4,358.7 L886.6,357.6 L887.3,356.5 L888.2,355.5 L889.4,354.6 L890.8,354.0 L890.1,353.0 L889.1,351.9 L888.4,350.7 L887.9,349.5 L887.9,348.3 L888.2,347.2 L888.8,346.4 L889.8,345.8 L891.0,345.4 L892.4,345.4 L893.9,345.6 L895.3,346.1 L895.5,345.0 L895.6,343.5 L895.9,342.1 L896.5,340.9 L897.3,340.0 L898.2,339.5 L899.3,339.4 L900.4,339.6 L901.5,340.3 L902.5,341.2 L903.4,342.4 L904.0,343.8 L905.0,343.1 L906.1,342.1 L907.3,341.4 L908.5,340.9 L909.7,340.9 L910.8,341.2 L911.6,341.8 L912.2,342.8 L912.6,344.0 L912.6,345.4 L912.4,346.9 L911.9,348.3 L913.0,348.5 L914.5,348.6 L915.9,348.9 L917.1,349.5 L918.0,350.3 L918.5,351.2 L918.6,352.3 L918.4,353.4 L917.7,354.5 L916.8,355.5Z" fill="#a8a8a8" stroke="#636363" stroke-width="2"/>
<path d="M913.3,355.5 L913.0,356.2 L912.4,356.8 L911.7,357.3 L910.9,357.8 L910.1,358.1 L910.1,358.7 L910.5,359.5 L910.8,360.3 L911.0,361.2 L910.9,362.0 L910.7,362.7 L910.3,363.3 L909.7,363.8 L909.0,364.0 L908.3,364.1 L907.4,364.0 L906.6,363.8 L905.8,363.4 L905.0,362.8 L904.7,363.7 L904.3,364.5 L903.8,365.2 L903.2,365.8 L902.5,366.2 L901.8,366.4 L901.1,366.4 L900.4,366.2 L899.7,365.8 L899.2,365.2 L898.8,364.4 L898.5,363.6 L898.3,362.7 L898.1,362.1 L897.2,362.4 L896.3,362.5 L895.5,362.5 L894.6,362.4 L893.9,362.1 L893.3,361.6 L893.0,361.0 L892.7,360.3 L892.7,359.5 L892.9,358.7 L893.3,358.0 L893.8,357.2 L894.5,356.6 L894.4,356.0 L893.6,355.5 L893.0,354.9 L892.5,354.2 L892.1,353.4 L892.0,352.7 L892.1,352.0 L892.3,351.3 L892.8,350.7 L893.5,350.3 L894.2,350.0 L895.1,349.8 L896.0,349.8 L896.9,349.9 L897.0,349.2 L897.0,348.3 L897.1,347.4 L897.4,346.6 L897.8,345.9 L898.3,345.4 L899.0,345.0 L899.7,344.9 L900.4,345.0 L901.2,345.3 L901.9,345.8 L902.5,346.4 L903.0,347.1 L903.5,347.8 L904.2,347.1 L904.9,346.6 L905.7,346.1 L906.5,345.9 L907.3,345.8 L908.0,346.0 L908.6,346.3 L909.1,346.8 L909.5,347.5 L909.7,348.3 L909.7,349.2 L909.6,350.1 L909.3,350.9 L909.4,351.5 L910.4,351.6 L911.2,351.9 L912.0,352.3 L912.7,352.8 L913.1,353.4 L913.4,354.1 L913.5,354.8 L913.3,355.5Z" fill="#808080" stroke="#636363" stroke-width="1.8"/>
<path d="M908.4,355.5 L908.3,355.9 L908.1,356.2 L907.9,356.6 L907.6,356.9 L907.3,357.1 L906.9,357.3 L906.5,357.5 L906.1,357.6 L906.2,358.0 L906.3,358.4 L906.3,358.8 L906.2,359.2 L906.1,359.6 L905.9,360.0 L905.7,360.3 L905.5,360.6 L905.1,360.9 L904.8,361.0 L904.4,361.1 L904.0,361.2 L903.6,361.1 L903.2,361.0 L902.8,360.8 L902.5,360.6 L902.2,360.3 L901.9,360.0 L901.7,359.7 L901.4,359.7 L901.0,359.9 L900.6,360.1 L900.2,360.2 L899.8,360.2 L899.4,360.2 L899.0,360.1 L898.6,359.9 L898.3,359.7 L898.0,359.4 L897.8,359.1 L897.6,358.8 L897.5,358.4 L897.5,358.0 L897.5,357.6 L897.6,357.2 L897.8,356.8 L898.0,356.4 L898.2,356.1 L898.2,355.8 L897.9,355.5 L897.6,355.2 L897.4,354.8 L897.2,354.4 L897.1,354.1 L897.0,353.6 L897.1,353.3 L897.2,352.9 L897.3,352.5 L897.5,352.2 L897.8,351.9 L898.2,351.7 L898.5,351.5 L898.9,351.4 L899.3,351.4 L899.8,351.4 L900.2,351.5 L900.6,351.6 L900.9,351.5 L901.0,351.2 L901.2,350.8 L901.5,350.5 L901.8,350.2 L902.1,350.0 L902.5,349.8 L902.9,349.7 L903.3,349.6 L903.7,349.6 L904.0,349.7 L904.4,349.9 L904.7,350.1 L905.0,350.4 L905.2,350.8 L905.4,351.1 L905.5,351.5 L905.6,351.9 L905.6,352.4 L905.7,352.7 L906.1,352.8 L906.5,352.8 L906.9,353.0 L907.3,353.2 L907.6,353.4 L907.9,353.7 L908.1,354.0 L908.3,354.3 L908.4,354.7 L908.5,355.1 L908.4,355.5Z" fill="#6a6a6a" stroke="#636363" stroke-width="1.5"/>
<rect x="666" y="333" width="25" height="35" rx="0" fill="#888" stroke="#636363" stroke-width="2" />
<line x1="672" y1="335" x2="672" y2="366" stroke="#fff" stroke-width="1.5" />
<line x1="680" y1="335" x2="680" y2="366" stroke="#fff" stroke-width="1.5" />
<ellipse cx="817" cy="355" rx="20" ry="17" fill="#fff" stroke="#636363" stroke-width="2"/><ellipse cx="796" cy="363" rx="11" ry="10" fill="#fff" stroke="#636363" stroke-width="2"/>
<line x1="805" y1="364" x2="848" y2="345" stroke="#636363" stroke-width="2.5" />
<circle cx="848" cy="345" r="3" fill="#636363"/>
<path d="M724,451 Q722,418 732,412 Q760,400 790,412 Q798,418 797,451 Q760,470 724,451Z" fill="none" stroke="#636363" stroke-width="2" />
<line x1="718" y1="428" x2="718" y2="458" stroke="#636363" stroke-width="2" />
<line x1="803" y1="428" x2="803" y2="458" stroke="#636363" stroke-width="2" />
<line x1="715" y1="455" x2="806" y2="455" stroke="#636363" stroke-width="2.5" />
<path d="M730,462 Q760,478 792,462" fill="none" stroke="#636363" stroke-width="2" />
<rect x="753" y="465" width="14" height="14" rx="0" fill="none" stroke="#636363" stroke-width="1.8" />
<line x1="760" y1="479" x2="760" y2="488" stroke="#636363" stroke-width="2" />
<rect x="872" y="417.6" width="30" height="22" rx="0" fill="#7a7a7a" stroke="#636363" stroke-width="1" />
<line x1="872" y1="422.0" x2="902" y2="422.0" stroke="#aaa" stroke-width="1" />
<line x1="872" y1="426.40000000000003" x2="902" y2="426.40000000000003" stroke="#aaa" stroke-width="1" />
<line x1="872" y1="430.8" x2="902" y2="430.8" stroke="#aaa" stroke-width="1" />
<line x1="872" y1="435.20000000000005" x2="902" y2="435.20000000000005" stroke="#aaa" stroke-width="1" />
<rect x="872" y="449.5" width="30" height="22" rx="0" fill="#7a7a7a" stroke="#636363" stroke-width="1" />
<line x1="872" y1="453.9" x2="902" y2="453.9" stroke="#aaa" stroke-width="1" />
<line x1="872" y1="458.3" x2="902" y2="458.3" stroke="#aaa" stroke-width="1" />
<line x1="872" y1="462.7" x2="902" y2="462.7" stroke="#aaa" stroke-width="1" />
<line x1="872" y1="467.1" x2="902" y2="467.1" stroke="#aaa" stroke-width="1" />
<rect x="872" y="485" width="30" height="22" rx="0" fill="#7a7a7a" stroke="#636363" stroke-width="1" />
<line x1="872" y1="489.4" x2="902" y2="489.4" stroke="#aaa" stroke-width="1" />
<line x1="872" y1="493.8" x2="902" y2="493.8" stroke="#aaa" stroke-width="1" />
<line x1="872" y1="498.2" x2="902" y2="498.2" stroke="#aaa" stroke-width="1" />
<line x1="872" y1="502.6" x2="902" y2="502.6" stroke="#aaa" stroke-width="1" />
<use href="#hg" transform="translate(887,538) rotate(0) scale(1.0)" fill="none" stroke="#636363" stroke-width="2"/>
<use href="#hg" transform="translate(887,570) rotate(0) scale(1.0)" fill="none" stroke="#636363" stroke-width="2"/>
<use href="#hg" transform="translate(887,601) rotate(0) scale(1.0)" fill="none" stroke="#636363" stroke-width="2"/>
<use href="#hg" transform="translate(887,630.5) rotate(0) scale(1.0)" fill="none" stroke="#636363" stroke-width="2"/>
<use href="#hg" transform="translate(887,662.4) rotate(0) scale(1.0)" fill="none" stroke="#636363" stroke-width="2"/>
<use href="#hg" transform="translate(887,692) rotate(0) scale(1.0)" fill="none" stroke="#636363" stroke-width="2"/>
<path d="M527,412 L660,414 Q668,430 662,450 L657,547 Q600,545 527,546 Z" fill="#fff" stroke="#636363" stroke-width="2.2" />
<path d="M527,546 Q600,550 664,565 Q670,590 665,612 Q600,620 527,617 Z" fill="#fff" stroke="#636363" stroke-width="2.2" />
<rect x="527" y="617" width="122" height="88" rx="0" fill="none" stroke="#636363" stroke-width="2" />
<path d="M537,641 Q585,630 633,641 Q633,655 633,657 Q585,650 537,657Z" fill="none" stroke="#636363" stroke-width="2.2" />
<path d="M537,660 Q585,650 633,660 Q633,670 633,675 Q585,680 537,675Z" fill="none" stroke="#636363" stroke-width="2.2" />
<path d="M532,686 a6,6 0 0 1 12,0" fill="none" stroke="#636363" stroke-width="2" />
<path d="M546,686 a6,6 0 0 1 12,0" fill="none" stroke="#636363" stroke-width="2" />
<path d="M560,686 a6,6 0 0 1 12,0" fill="none" stroke="#636363" stroke-width="2" />
<path d="M574,686 a6,6 0 0 1 12,0" fill="none" stroke="#636363" stroke-width="2" />
<path d="M588,686 a6,6 0 0 1 12,0" fill="none" stroke="#636363" stroke-width="2" />
<path d="M602,686 a6,6 0 0 1 12,0" fill="none" stroke="#636363" stroke-width="2" />
<path d="M616,686 a6,6 0 0 1 12,0" fill="none" stroke="#636363" stroke-width="2" />
<path d="M630,686 a6,6 0 0 1 12,0" fill="none" stroke="#636363" stroke-width="2" />
<line x1="529" y1="686" x2="649" y2="686" stroke="#636363" stroke-width="1.5" />
<g transform="translate(703,502) rotate(-22)"><rect x="-16" y="-34" width="32" height="68" rx="6" fill="none" stroke="#636363" stroke-width="2.5"/><rect x="-11" y="-18" width="22" height="28" fill="none" stroke="#636363" stroke-width="2"/><line x1="-11" y1="-24" x2="11" y2="-24" stroke="#636363" stroke-width="2"/></g>
<g transform="translate(700,561) rotate(-18)"><ellipse rx="21" ry="12" fill="#fff" stroke="#636363" stroke-width="2.5"/><path d="M-15,-8 Q-21,0 -15,8 M-8,-11 Q-14,0 -8,11 M0,-12 Q-6,0 0,12 M8,-11 Q2,0 8,11" fill="none" stroke="#636363" stroke-width="2"/><path d="M-21,0 a6,10 0 0 0 6,10 L -15,-10 a6,10 0 0 0 -6,10" fill="#666"/></g>
<rect x="949" y="327" width="49" height="294" rx="0" fill="none" stroke="#636363" stroke-width="2" />
<rect x="958.6" y="337" width="9.4" height="278" rx="0" fill="none" stroke="#636363" stroke-width="2" />
<path d="M986.0,660.0 L986.8,656.0 L987.6,652.0 L988.6,648.0 L989.6,644.1 L990.8,640.2 L992.0,636.3 L993.4,632.4 L994.8,628.6 L996.4,624.8 L998.0,621.0" fill="none" stroke="#636363" stroke-width="2"/>
<ellipse cx="992.0" cy="645.3" rx="5.6" ry="2.0" transform="rotate(-43.6 992.0 645.3)" fill="#fff" stroke="#636363" stroke-width="1.8"/>
<ellipse cx="986.5" cy="644.1" rx="5.6" ry="2.0" transform="rotate(-112.4 986.5 644.1)" fill="#fff" stroke="#636363" stroke-width="1.8"/>
<ellipse cx="993.0" cy="641.0" rx="5.1" ry="1.9" transform="rotate(-42.8 993.0 641.0)" fill="#fff" stroke="#636363" stroke-width="1.8"/>
<ellipse cx="987.9" cy="639.8" rx="5.1" ry="1.9" transform="rotate(-111.5 987.9 639.8)" fill="#fff" stroke="#636363" stroke-width="1.8"/>
<ellipse cx="994.1" cy="636.6" rx="4.6" ry="1.8" transform="rotate(-41.9 994.1 636.6)" fill="#fff" stroke="#636363" stroke-width="1.8"/>
<ellipse cx="989.6" cy="635.5" rx="4.6" ry="1.8" transform="rotate(-110.7 989.6 635.5)" fill="#fff" stroke="#636363" stroke-width="1.8"/>
<ellipse cx="995.4" cy="632.3" rx="4.1" ry="1.7" transform="rotate(-41.0 995.4 632.3)" fill="#fff" stroke="#636363" stroke-width="1.8"/>
<ellipse cx="991.3" cy="631.2" rx="4.1" ry="1.7" transform="rotate(-109.8 991.3 631.2)" fill="#fff" stroke="#636363" stroke-width="1.8"/>
<ellipse cx="996.8" cy="628.0" rx="3.6" ry="1.6" transform="rotate(-40.2 996.8 628.0)" fill="#fff" stroke="#636363" stroke-width="1.8"/>
<ellipse cx="993.2" cy="627.0" rx="3.6" ry="1.6" transform="rotate(-108.9 993.2 627.0)" fill="#fff" stroke="#636363" stroke-width="1.8"/>
<ellipse cx="998.3" cy="623.7" rx="3.1" ry="1.5" transform="rotate(-39.3 998.3 623.7)" fill="#fff" stroke="#636363" stroke-width="1.8"/>
<ellipse cx="995.2" cy="622.8" rx="3.1" ry="1.5" transform="rotate(-108.1 995.2 622.8)" fill="#fff" stroke="#636363" stroke-width="1.8"/>
<ellipse cx="997.3" cy="622.5" rx="4.9" ry="3.0" transform="rotate(-72.8 997.3 622.5)" fill="#fff" stroke="#636363" stroke-width="1.8"/>
<path d="M986.0,660.0 L990.2,658.4 L994.3,656.8 L998.3,655.0 L1002.4,653.1 L1006.3,651.1 L1010.3,649.0 L1014.2,646.9 L1018.0,644.6 L1021.8,642.2 L1025.5,639.7" fill="none" stroke="#636363" stroke-width="2"/>
<ellipse cx="1002.9" cy="656.5" rx="6.1" ry="2.1" transform="rotate(12.4 1002.9 656.5)" fill="#fff" stroke="#636363" stroke-width="1.8"/>
<ellipse cx="1000.6" cy="650.8" rx="6.1" ry="2.1" transform="rotate(-56.4 1000.6 650.8)" fill="#fff" stroke="#636363" stroke-width="1.8"/>
<ellipse cx="1007.3" cy="654.1" rx="5.5" ry="2.0" transform="rotate(11.5 1007.3 654.1)" fill="#fff" stroke="#636363" stroke-width="1.8"/>
<ellipse cx="1005.1" cy="648.9" rx="5.5" ry="2.0" transform="rotate(-57.2 1005.1 648.9)" fill="#fff" stroke="#636363" stroke-width="1.8"/>
<ellipse cx="1011.6" cy="651.5" rx="5.0" ry="1.9" transform="rotate(10.7 1011.6 651.5)" fill="#fff" stroke="#636363" stroke-width="1.8"/>
<ellipse cx="1009.5" cy="646.9" rx="5.0" ry="1.9" transform="rotate(-58.1 1009.5 646.9)" fill="#fff" stroke="#636363" stroke-width="1.8"/>
<ellipse cx="1015.8" cy="648.9" rx="4.5" ry="1.8" transform="rotate(9.8 1015.8 648.9)" fill="#fff" stroke="#636363" stroke-width="1.8"/>
<ellipse cx="1013.9" cy="644.7" rx="4.5" ry="1.8" transform="rotate(-59.0 1013.9 644.7)" fill="#fff" stroke="#636363" stroke-width="1.8"/>
<ellipse cx="1020.0" cy="646.1" rx="3.9" ry="1.7" transform="rotate(8.9 1020.0 646.1)" fill="#fff" stroke="#636363" stroke-width="1.8"/>
<ellipse cx="1018.3" cy="642.4" rx="3.9" ry="1.7" transform="rotate(-59.8 1018.3 642.4)" fill="#fff" stroke="#636363" stroke-width="1.8"/>
<ellipse cx="1024.1" cy="643.1" rx="3.4" ry="1.5" transform="rotate(8.1 1024.1 643.1)" fill="#fff" stroke="#636363" stroke-width="1.8"/>
<ellipse cx="1022.5" cy="640.0" rx="3.4" ry="1.5" transform="rotate(-60.7 1022.5 640.0)" fill="#fff" stroke="#636363" stroke-width="1.8"/>
<ellipse cx="1024.0" cy="640.8" rx="5.3" ry="3.2" transform="rotate(-27.2 1024.0 640.8)" fill="#fff" stroke="#636363" stroke-width="1.8"/>
<path d="M986.0,660.0 L990.5,661.7 L994.9,663.5 L999.3,665.4 L1003.7,667.5 L1008.0,669.6 L1012.2,671.9 L1016.4,674.2 L1020.6,676.7 L1024.7,679.2 L1028.7,681.9" fill="none" stroke="#636363" stroke-width="2"/>
<ellipse cx="1001.8" cy="670.0" rx="6.5" ry="2.2" transform="rotate(56.4 1001.8 670.0)" fill="#fff" stroke="#636363" stroke-width="1.8"/>
<ellipse cx="1004.3" cy="663.8" rx="6.5" ry="2.2" transform="rotate(-12.4 1004.3 663.8)" fill="#fff" stroke="#636363" stroke-width="1.8"/>
<ellipse cx="1006.6" cy="672.0" rx="6.0" ry="2.1" transform="rotate(57.2 1006.6 672.0)" fill="#fff" stroke="#636363" stroke-width="1.8"/>
<ellipse cx="1009.0" cy="666.4" rx="6.0" ry="2.1" transform="rotate(-11.5 1009.0 666.4)" fill="#fff" stroke="#636363" stroke-width="1.8"/>
<ellipse cx="1011.4" cy="674.2" rx="5.4" ry="2.0" transform="rotate(58.1 1011.4 674.2)" fill="#fff" stroke="#636363" stroke-width="1.8"/>
<ellipse cx="1013.7" cy="669.1" rx="5.4" ry="2.0" transform="rotate(-10.7 1013.7 669.1)" fill="#fff" stroke="#636363" stroke-width="1.8"/>
<ellipse cx="1016.2" cy="676.5" rx="4.8" ry="1.9" transform="rotate(59.0 1016.2 676.5)" fill="#fff" stroke="#636363" stroke-width="1.8"/>
<ellipse cx="1018.3" cy="672.0" rx="4.8" ry="1.9" transform="rotate(-9.8 1018.3 672.0)" fill="#fff" stroke="#636363" stroke-width="1.8"/>
<ellipse cx="1020.9" cy="679.0" rx="4.2" ry="1.7" transform="rotate(59.8 1020.9 679.0)" fill="#fff" stroke="#636363" stroke-width="1.8"/>
<ellipse cx="1022.8" cy="675.1" rx="4.2" ry="1.7" transform="rotate(-8.9 1022.8 675.1)" fill="#fff" stroke="#636363" stroke-width="1.8"/>
<ellipse cx="1025.5" cy="681.6" rx="3.7" ry="1.6" transform="rotate(60.7 1025.5 681.6)" fill="#fff" stroke="#636363" stroke-width="1.8"/>
<ellipse cx="1027.2" cy="678.2" rx="3.7" ry="1.6" transform="rotate(-8.1 1027.2 678.2)" fill="#fff" stroke="#636363" stroke-width="1.8"/>
<ellipse cx="1027.1" cy="680.8" rx="5.8" ry="3.4" transform="rotate(27.2 1027.1 680.8)" fill="#fff" stroke="#636363" stroke-width="1.8"/>
<path d="M986.0,660.0 L986.8,664.2 L987.7,668.4 L988.7,672.5 L989.8,676.6 L991.0,680.7 L992.3,684.8 L993.7,688.8 L995.2,692.8 L996.9,696.8 L998.6,700.7" fill="none" stroke="#636363" stroke-width="2"/>
<ellipse cx="986.5" cy="676.6" rx="5.8" ry="2.1" transform="rotate(112.4 986.5 676.6)" fill="#fff" stroke="#636363" stroke-width="1.8"/>
<ellipse cx="992.3" cy="675.3" rx="5.8" ry="2.1" transform="rotate(43.6 992.3 675.3)" fill="#fff" stroke="#636363" stroke-width="1.8"/>
<ellipse cx="988.0" cy="681.1" rx="5.3" ry="2.0" transform="rotate(111.5 988.0 681.1)" fill="#fff" stroke="#636363" stroke-width="1.8"/>
<ellipse cx="993.3" cy="679.9" rx="5.3" ry="2.0" transform="rotate(42.8 993.3 679.9)" fill="#fff" stroke="#636363" stroke-width="1.8"/>
<ellipse cx="989.7" cy="685.6" rx="4.8" ry="1.8" transform="rotate(110.7 989.7 685.6)" fill="#fff" stroke="#636363" stroke-width="1.8"/>
<ellipse cx="994.5" cy="684.4" rx="4.8" ry="1.8" transform="rotate(41.9 994.5 684.4)" fill="#fff" stroke="#636363" stroke-width="1.8"/>
<ellipse cx="991.5" cy="690.0" rx="4.3" ry="1.7" transform="rotate(109.8 991.5 690.0)" fill="#fff" stroke="#636363" stroke-width="1.8"/>
<ellipse cx="995.8" cy="688.9" rx="4.3" ry="1.7" transform="rotate(41.0 995.8 688.9)" fill="#fff" stroke="#636363" stroke-width="1.8"/>
<ellipse cx="993.5" cy="694.4" rx="3.8" ry="1.6" transform="rotate(108.9 993.5 694.4)" fill="#fff" stroke="#636363" stroke-width="1.8"/>
<ellipse cx="997.2" cy="693.4" rx="3.8" ry="1.6" transform="rotate(40.2 997.2 693.4)" fill="#fff" stroke="#636363" stroke-width="1.8"/>
<ellipse cx="995.6" cy="698.8" rx="3.3" ry="1.5" transform="rotate(108.1 995.6 698.8)" fill="#fff" stroke="#636363" stroke-width="1.8"/>
<ellipse cx="998.8" cy="697.9" rx="3.3" ry="1.5" transform="rotate(39.3 998.8 697.9)" fill="#fff" stroke="#636363" stroke-width="1.8"/>
<ellipse cx="997.8" cy="699.1" rx="5.1" ry="3.1" transform="rotate(72.8 997.8 699.1)" fill="#fff" stroke="#636363" stroke-width="1.8"/>
<path d="M986.0,660.0 L983.0,663.5 L979.9,666.9 L976.7,670.3 L973.4,673.5 L970.1,676.7 L966.6,679.8 L963.1,682.9 L959.5,685.8 L955.9,688.7 L952.1,691.4" fill="none" stroke="#636363" stroke-width="2"/>
<ellipse cx="971.8" cy="671.0" rx="6.3" ry="2.2" transform="rotate(166.4 971.8 671.0)" fill="#fff" stroke="#636363" stroke-width="1.8"/>
<ellipse cx="976.6" cy="675.3" rx="6.3" ry="2.2" transform="rotate(97.6 976.6 675.3)" fill="#fff" stroke="#636363" stroke-width="1.8"/>
<ellipse cx="968.3" cy="674.7" rx="5.7" ry="2.1" transform="rotate(167.2 968.3 674.7)" fill="#fff" stroke="#636363" stroke-width="1.8"/>
<ellipse cx="972.7" cy="678.7" rx="5.7" ry="2.1" transform="rotate(98.5 972.7 678.7)" fill="#fff" stroke="#636363" stroke-width="1.8"/>
<ellipse cx="964.8" cy="678.3" rx="5.2" ry="1.9" transform="rotate(168.1 964.8 678.3)" fill="#fff" stroke="#636363" stroke-width="1.8"/>
<ellipse cx="968.6" cy="682.0" rx="5.2" ry="1.9" transform="rotate(99.3 968.6 682.0)" fill="#fff" stroke="#636363" stroke-width="1.8"/>
<ellipse cx="961.1" cy="681.9" rx="4.6" ry="1.8" transform="rotate(169.0 961.1 681.9)" fill="#fff" stroke="#636363" stroke-width="1.8"/>
<ellipse cx="964.5" cy="685.2" rx="4.6" ry="1.8" transform="rotate(100.2 964.5 685.2)" fill="#fff" stroke="#636363" stroke-width="1.8"/>
<ellipse cx="957.3" cy="685.3" rx="4.1" ry="1.7" transform="rotate(169.8 957.3 685.3)" fill="#fff" stroke="#636363" stroke-width="1.8"/>
<ellipse cx="960.3" cy="688.3" rx="4.1" ry="1.7" transform="rotate(101.1 960.3 688.3)" fill="#fff" stroke="#636363" stroke-width="1.8"/>
<ellipse cx="953.4" cy="688.6" rx="3.5" ry="1.6" transform="rotate(170.7 953.4 688.6)" fill="#fff" stroke="#636363" stroke-width="1.8"/>
<ellipse cx="955.9" cy="691.2" rx="3.5" ry="1.6" transform="rotate(101.9 955.9 691.2)" fill="#fff" stroke="#636363" stroke-width="1.8"/>
<ellipse cx="953.7" cy="690.3" rx="5.5" ry="3.3" transform="rotate(137.2 953.7 690.3)" fill="#fff" stroke="#636363" stroke-width="1.8"/>
<path d="M986.0,660.0 L981.9,660.4 L977.9,660.9 L973.9,661.5 L969.8,662.2 L965.8,663.0 L961.8,664.0 L957.9,665.0 L953.9,666.1 L950.0,667.3 L946.1,668.6" fill="none" stroke="#636363" stroke-width="2"/>
<ellipse cx="970.2" cy="659.1" rx="5.6" ry="2.0" transform="rotate(207.4 970.2 659.1)" fill="#fff" stroke="#636363" stroke-width="1.8"/>
<ellipse cx="970.9" cy="664.7" rx="5.6" ry="2.0" transform="rotate(138.6 970.9 664.7)" fill="#fff" stroke="#636363" stroke-width="1.8"/>
<ellipse cx="965.7" cy="660.2" rx="5.1" ry="1.9" transform="rotate(206.5 965.7 660.2)" fill="#fff" stroke="#636363" stroke-width="1.8"/>
<ellipse cx="966.4" cy="665.3" rx="5.1" ry="1.9" transform="rotate(137.8 966.4 665.3)" fill="#fff" stroke="#636363" stroke-width="1.8"/>
<ellipse cx="961.3" cy="661.4" rx="4.6" ry="1.8" transform="rotate(205.7 961.3 661.4)" fill="#fff" stroke="#636363" stroke-width="1.8"/>
<ellipse cx="962.0" cy="666.1" rx="4.6" ry="1.8" transform="rotate(136.9 962.0 666.1)" fill="#fff" stroke="#636363" stroke-width="1.8"/>
<ellipse cx="956.9" cy="662.8" rx="4.1" ry="1.7" transform="rotate(204.8 956.9 662.8)" fill="#fff" stroke="#636363" stroke-width="1.8"/>
<ellipse cx="957.6" cy="666.9" rx="4.1" ry="1.7" transform="rotate(136.0 957.6 666.9)" fill="#fff" stroke="#636363" stroke-width="1.8"/>
<ellipse cx="952.5" cy="664.3" rx="3.6" ry="1.6" transform="rotate(203.9 952.5 664.3)" fill="#fff" stroke="#636363" stroke-width="1.8"/>
<ellipse cx="953.2" cy="667.9" rx="3.6" ry="1.6" transform="rotate(135.2 953.2 667.9)" fill="#fff" stroke="#636363" stroke-width="1.8"/>
<ellipse cx="948.2" cy="665.9" rx="3.1" ry="1.5" transform="rotate(203.1 948.2 665.9)" fill="#fff" stroke="#636363" stroke-width="1.8"/>
<ellipse cx="948.8" cy="669.1" rx="3.1" ry="1.5" transform="rotate(134.3 948.8 669.1)" fill="#fff" stroke="#636363" stroke-width="1.8"/>
<ellipse cx="947.7" cy="668.0" rx="4.9" ry="3.0" transform="rotate(167.8 947.7 668.0)" fill="#fff" stroke="#636363" stroke-width="1.8"/>
<path d="M986.0,660.0 L982.2,657.7 L978.4,655.4 L974.7,652.9 L971.1,650.4 L967.5,647.7 L964.0,645.0 L960.5,642.2 L957.2,639.3 L953.9,636.3 L950.6,633.2" fill="none" stroke="#636363" stroke-width="2"/>
<ellipse cx="973.3" cy="648.4" rx="6.1" ry="2.1" transform="rotate(-113.6 973.3 648.4)" fill="#fff" stroke="#636363" stroke-width="1.8"/>
<ellipse cx="970.0" cy="653.6" rx="6.1" ry="2.1" transform="rotate(-182.4 970.0 653.6)" fill="#fff" stroke="#636363" stroke-width="1.8"/>
<ellipse cx="969.1" cy="645.7" rx="5.5" ry="2.0" transform="rotate(-112.8 969.1 645.7)" fill="#fff" stroke="#636363" stroke-width="1.8"/>
<ellipse cx="966.1" cy="650.5" rx="5.5" ry="2.0" transform="rotate(-181.5 966.1 650.5)" fill="#fff" stroke="#636363" stroke-width="1.8"/>
<ellipse cx="965.1" cy="643.0" rx="5.0" ry="1.9" transform="rotate(-111.9 965.1 643.0)" fill="#fff" stroke="#636363" stroke-width="1.8"/>
<ellipse cx="962.3" cy="647.2" rx="5.0" ry="1.9" transform="rotate(-180.7 962.3 647.2)" fill="#fff" stroke="#636363" stroke-width="1.8"/>
<ellipse cx="961.2" cy="640.1" rx="4.5" ry="1.8" transform="rotate(-111.0 961.2 640.1)" fill="#fff" stroke="#636363" stroke-width="1.8"/>
<ellipse cx="958.6" cy="643.9" rx="4.5" ry="1.8" transform="rotate(-179.8 958.6 643.9)" fill="#fff" stroke="#636363" stroke-width="1.8"/>
<ellipse cx="957.3" cy="637.1" rx="3.9" ry="1.7" transform="rotate(-110.2 957.3 637.1)" fill="#fff" stroke="#636363" stroke-width="1.8"/>
<ellipse cx="954.9" cy="640.4" rx="3.9" ry="1.7" transform="rotate(-178.9 954.9 640.4)" fill="#fff" stroke="#636363" stroke-width="1.8"/>
<ellipse cx="953.5" cy="634.0" rx="3.4" ry="1.5" transform="rotate(-109.3 953.5 634.0)" fill="#fff" stroke="#636363" stroke-width="1.8"/>
<ellipse cx="951.4" cy="636.8" rx="3.4" ry="1.5" transform="rotate(-178.1 951.4 636.8)" fill="#fff" stroke="#636363" stroke-width="1.8"/>
<ellipse cx="951.9" cy="634.5" rx="5.3" ry="3.2" transform="rotate(-142.8 951.9 634.5)" fill="#fff" stroke="#636363" stroke-width="1.8"/>
<g transform="translate(1265.5,541) rotate(0)"><rect x="-30" y="-28" width="60" height="60" rx="8" fill="none" stroke="#636363" stroke-width="2"/><rect x="-26" y="-36" width="52" height="6" rx="3" fill="none" stroke="#636363" stroke-width="2"/></g>
<g transform="translate(1265.5,682) rotate(180)"><rect x="-30" y="-28" width="60" height="60" rx="8" fill="none" stroke="#636363" stroke-width="2"/><rect x="-26" y="-36" width="52" height="6" rx="3" fill="none" stroke="#636363" stroke-width="2"/></g>
<g transform="translate(1193,612.4) rotate(-90)"><rect x="-30" y="-28" width="60" height="60" rx="8" fill="none" stroke="#636363" stroke-width="2"/><rect x="-26" y="-36" width="52" height="6" rx="3" fill="none" stroke="#636363" stroke-width="2"/></g>
<g transform="translate(1337,612.4) rotate(90)"><rect x="-30" y="-28" width="60" height="60" rx="8" fill="none" stroke="#636363" stroke-width="2"/><rect x="-26" y="-36" width="52" height="6" rx="3" fill="none" stroke="#636363" stroke-width="2"/></g>
<circle cx="1262.8" cy="612.4" r="55.3" fill="none" stroke="#636363" stroke-width="2"/>
<rect x="1435" y="372" width="84" height="138.6" rx="0" fill="none" stroke="#636363" stroke-width="2" />
<rect x="1551.4" y="337" width="137.3" height="286" rx="10" fill="none" stroke="#636363" stroke-width="2" />
<rect x="1553" y="339" width="134" height="22" rx="8" fill="none" stroke="#636363" stroke-width="2" />
<rect x="1553" y="599" width="134" height="22" rx="8" fill="none" stroke="#636363" stroke-width="2" />
<path d="M1558,361 V599" fill="none" stroke="#636363" stroke-width="2" />
<path d="M1681,361 V599" fill="none" stroke="#636363" stroke-width="2" />
<rect x="1649" y="361" width="23" height="117" rx="8" fill="none" stroke="#636363" stroke-width="2" />
<rect x="1649" y="478" width="23" height="121" rx="8" fill="none" stroke="#636363" stroke-width="2" />
<g transform="translate(1625,368) rotate(35)"><path d="M-28.0,-24.0 L28.0,-24.0 L28.0,24.0 L-28.0,24.0Z M-33.0,-28.0 l8,6 M33.0,-28.0 l-8,6 M-33.0,28.0 l8,-6 M33.0,28.0 l-8,-6" fill="#fff" stroke="#636363" stroke-width="2"/></g>
<g transform="translate(1637,422) rotate(-30)"><path d="M-25.0,-31.0 L25.0,-31.0 L25.0,31.0 L-25.0,31.0Z M-30.0,-35.0 l8,6 M30.0,-35.0 l-8,6 M-30.0,35.0 l8,-6 M30.0,35.0 l-8,-6" fill="#fff" stroke="#636363" stroke-width="2"/></g>
<g transform="translate(1626,580) rotate(-35)"><path d="M-28.0,-25.0 L28.0,-25.0 L28.0,25.0 L-28.0,25.0Z M-33.0,-29.0 l8,6 M33.0,-29.0 l-8,6 M-33.0,29.0 l8,-6 M33.0,29.0 l-8,-6" fill="#fff" stroke="#636363" stroke-width="2"/></g>
<rect x="1106.7" y="761.4" width="593" height="83.3" rx="0" fill="none" stroke="#636363" stroke-width="2" />
<line x1="1284.6" y1="761.4" x2="1284.6" y2="844.7" stroke="#636363" stroke-width="2" />
<line x1="1367.3" y1="761.4" x2="1367.3" y2="844.7" stroke="#636363" stroke-width="2" />
<line x1="1451.8" y1="761.4" x2="1451.8" y2="844.7" stroke="#636363" stroke-width="2" />
<line x1="1533" y1="761.4" x2="1533" y2="844.7" stroke="#636363" stroke-width="2" />
<line x1="1615" y1="761.4" x2="1615" y2="844.7" stroke="#636363" stroke-width="2" />
<rect x="1147" y="768" width="98" height="70.6" rx="6" fill="none" stroke="#636363" stroke-width="2" />
<rect x="1153" y="774" width="86" height="58" rx="4" fill="none" stroke="#636363" stroke-width="1.8" />
<line x1="1195" y1="777" x2="1195" y2="829" stroke="#636363" stroke-width="1.8" />
<rect x="1167" y="778" width="22" height="38" rx="3" fill="#999" stroke="#636363" stroke-width="1.5" />
<line x1="1155" y1="790" x2="1166" y2="790" stroke="#636363" stroke-width="1.2" />
<line x1="1155" y1="800" x2="1166" y2="800" stroke="#636363" stroke-width="1.2" />
<line x1="1155" y1="810" x2="1166" y2="810" stroke="#636363" stroke-width="1.2" />
<line x1="1155" y1="820" x2="1166" y2="820" stroke="#636363" stroke-width="1.2" />
<line x1="1206" y1="834" x2="1218" y2="806" stroke="#636363" stroke-width="5" />
<circle cx="1222" cy="822" r="3" fill="none" stroke="#636363" stroke-width="1.5"/>
<rect x="1456" y="767.5" width="71.8" height="69.9" rx="6" fill="none" stroke="#636363" stroke-width="2" />
<circle cx="1473.7" cy="785.7" r="10" fill="none" stroke="#636363" stroke-width="2"/><circle cx="1473.7" cy="785.7" r="6" fill="none" stroke="#636363" stroke-width="1.5"/>
<circle cx="1508" cy="785.7" r="10" fill="none" stroke="#636363" stroke-width="2"/><circle cx="1508" cy="785.7" r="6" fill="none" stroke="#636363" stroke-width="1.5"/>
<circle cx="1473.7" cy="819.8" r="10" fill="none" stroke="#636363" stroke-width="2"/><circle cx="1473.7" cy="819.8" r="6" fill="none" stroke="#636363" stroke-width="1.5"/>
<circle cx="1508" cy="819.8" r="10" fill="none" stroke="#636363" stroke-width="2"/><circle cx="1508" cy="819.8" r="6" fill="none" stroke="#636363" stroke-width="1.5"/>
<path d="M1617,761 V759 Q1617,756 1621,756 H1694 Q1698,756 1698,759 V761" fill="none" stroke="#636363" stroke-width="2" />
<path d="M1617,764 L1676,800 L1637,800 L1697,842" fill="none" stroke="#636363" stroke-width="2" />
<g fill="none" stroke="#666" stroke-width="2.5">
<path d="M1796,252.2 H2026.3 V807" fill="none" stroke="#636363" stroke-width="2.5" />
<path d="M1796,260 H2017.8 V807" fill="none" stroke="#636363" stroke-width="2.5" />
<path d="M1796,268.4 H1960 M2010.6,318 V807" fill="none" stroke="#636363" stroke-width="2.5" />
</g>
<rect x="1959.8" y="267.8" width="51.5" height="50.8" fill="#777"/>
<rect x="1796" y="252" width="15.5" height="16.4" rx="0" fill="#fff" stroke="#666" stroke-width="2.2" />
<rect x="1942" y="252" width="18.5" height="16.4" rx="0" fill="#fff" stroke="#666" stroke-width="2.2" />
<rect x="2010.5" y="318.6" width="15.8" height="15.6" rx="0" fill="#fff" stroke="#666" stroke-width="2.2" />
<rect x="2010.5" y="792.8" width="15.8" height="14.2" rx="0" fill="#fff" stroke="#666" stroke-width="2.2" />
<circle cx="1855" cy="450" r="41" fill="none" stroke="#636363" stroke-width="2"/>
<g transform="translate(1873,344) rotate(-45)" fill="#fff" stroke="#636363" stroke-width="2.2"><path d="M-32,-30 Q-50,-62 0,-66 Q50,-62 32,-30 L30,50 L-30,50 Z"/><rect x="-54" y="-44" width="24" height="98" rx="12"/><rect x="30" y="-44" width="24" height="98" rx="12"/><path d="M-42,-30 V40 M42,-30 V40" stroke-dasharray="8,6" stroke-width="1.6"/><path d="M-30,-36 Q0,-48 30,-36" /><path d="M-20,-26 L16,-30 L20,12 L-16,16 Z"/><path d="M-26,-22 q-4,12 2,22 q8,6 12,-4 q2,-14 -6,-20 Z"/></g>
<g transform="translate(1873,561) rotate(-135)" fill="#fff" stroke="#636363" stroke-width="2.2"><path d="M-32,-30 Q-50,-62 0,-66 Q50,-62 32,-30 L30,50 L-30,50 Z"/><rect x="-54" y="-44" width="24" height="98" rx="12"/><rect x="30" y="-44" width="24" height="98" rx="12"/><path d="M-42,-30 V40 M42,-30 V40" stroke-dasharray="8,6" stroke-width="1.6"/><path d="M-30,-36 Q0,-48 30,-36" /><path d="M-20,-26 L16,-30 L20,12 L-16,16 Z"/><path d="M-26,-22 q-4,12 2,22 q8,6 12,-4 q2,-14 -6,-20 Z"/></g>
<path d="M1860.0,758.0 L1855.6,754.8 L1851.2,751.5 L1847.0,748.1 L1842.8,744.6 L1838.7,741.0 L1834.7,737.3 L1830.8,733.5 L1827.0,729.6 L1823.3,725.6 L1819.7,721.5" fill="none" stroke="#636363" stroke-width="2"/>
<ellipse cx="1845.7" cy="742.4" rx="7.4" ry="2.4" transform="rotate(-108.6 1845.7 742.4)" fill="#fff" stroke="#636363" stroke-width="1.8"/>
<ellipse cx="1841.1" cy="748.5" rx="7.4" ry="2.4" transform="rotate(-177.4 1841.1 748.5)" fill="#fff" stroke="#636363" stroke-width="1.8"/>
<ellipse cx="1840.9" cy="738.8" rx="6.8" ry="2.3" transform="rotate(-107.8 1840.9 738.8)" fill="#fff" stroke="#636363" stroke-width="1.8"/>
<ellipse cx="1836.7" cy="744.3" rx="6.8" ry="2.3" transform="rotate(-176.5 1836.7 744.3)" fill="#fff" stroke="#636363" stroke-width="1.8"/>
<ellipse cx="1836.3" cy="735.0" rx="6.1" ry="2.1" transform="rotate(-106.9 1836.3 735.0)" fill="#fff" stroke="#636363" stroke-width="1.8"/>
<ellipse cx="1832.4" cy="739.9" rx="6.1" ry="2.1" transform="rotate(-175.7 1832.4 739.9)" fill="#fff" stroke="#636363" stroke-width="1.8"/>
<ellipse cx="1831.8" cy="731.0" rx="5.5" ry="2.0" transform="rotate(-106.0 1831.8 731.0)" fill="#fff" stroke="#636363" stroke-width="1.8"/>
<ellipse cx="1828.2" cy="735.4" rx="5.5" ry="2.0" transform="rotate(-174.8 1828.2 735.4)" fill="#fff" stroke="#636363" stroke-width="1.8"/>
<ellipse cx="1827.4" cy="727.0" rx="4.8" ry="1.8" transform="rotate(-105.2 1827.4 727.0)" fill="#fff" stroke="#636363" stroke-width="1.8"/>
<ellipse cx="1824.2" cy="730.7" rx="4.8" ry="1.8" transform="rotate(-173.9 1824.2 730.7)" fill="#fff" stroke="#636363" stroke-width="1.8"/>
<ellipse cx="1823.1" cy="722.7" rx="4.2" ry="1.7" transform="rotate(-104.3 1823.1 722.7)" fill="#fff" stroke="#636363" stroke-width="1.8"/>
<ellipse cx="1820.3" cy="725.9" rx="4.2" ry="1.7" transform="rotate(-173.1 1820.3 725.9)" fill="#fff" stroke="#636363" stroke-width="1.8"/>
<ellipse cx="1821.1" cy="723.2" rx="6.5" ry="3.7" transform="rotate(-137.8 1821.1 723.2)" fill="#fff" stroke="#636363" stroke-width="1.8"/>
<path d="M1860.0,758.0 L1859.4,752.1 L1858.7,746.2 L1857.8,740.4 L1856.8,734.5 L1855.6,728.7 L1854.3,722.9 L1852.8,717.2 L1851.2,711.5 L1849.4,705.8 L1847.5,700.1" fill="none" stroke="#636363" stroke-width="2"/>
<ellipse cx="1861.4" cy="735.0" rx="8.1" ry="2.6" transform="rotate(-62.6 1861.4 735.0)" fill="#fff" stroke="#636363" stroke-width="1.8"/>
<ellipse cx="1853.1" cy="736.0" rx="8.1" ry="2.6" transform="rotate(-131.4 1853.1 736.0)" fill="#fff" stroke="#636363" stroke-width="1.8"/>
<ellipse cx="1859.7" cy="728.6" rx="7.4" ry="2.4" transform="rotate(-63.5 1859.7 728.6)" fill="#fff" stroke="#636363" stroke-width="1.8"/>
<ellipse cx="1852.3" cy="729.6" rx="7.4" ry="2.4" transform="rotate(-132.2 1852.3 729.6)" fill="#fff" stroke="#636363" stroke-width="1.8"/>
<ellipse cx="1857.9" cy="722.1" rx="6.7" ry="2.3" transform="rotate(-64.3 1857.9 722.1)" fill="#fff" stroke="#636363" stroke-width="1.8"/>
<ellipse cx="1851.2" cy="723.2" rx="6.7" ry="2.3" transform="rotate(-133.1 1851.2 723.2)" fill="#fff" stroke="#636363" stroke-width="1.8"/>
<ellipse cx="1856.0" cy="715.7" rx="5.9" ry="2.1" transform="rotate(-65.2 1856.0 715.7)" fill="#fff" stroke="#636363" stroke-width="1.8"/>
<ellipse cx="1849.9" cy="716.8" rx="5.9" ry="2.1" transform="rotate(-134.0 1849.9 716.8)" fill="#fff" stroke="#636363" stroke-width="1.8"/>
<ellipse cx="1853.8" cy="709.4" rx="5.2" ry="1.9" transform="rotate(-66.1 1853.8 709.4)" fill="#fff" stroke="#636363" stroke-width="1.8"/>
<ellipse cx="1848.5" cy="710.4" rx="5.2" ry="1.9" transform="rotate(-134.8 1848.5 710.4)" fill="#fff" stroke="#636363" stroke-width="1.8"/>
<ellipse cx="1851.4" cy="703.1" rx="4.5" ry="1.8" transform="rotate(-66.9 1851.4 703.1)" fill="#fff" stroke="#636363" stroke-width="1.8"/>
<ellipse cx="1846.8" cy="704.0" rx="4.5" ry="1.8" transform="rotate(-135.7 1846.8 704.0)" fill="#fff" stroke="#636363" stroke-width="1.8"/>
<ellipse cx="1848.4" cy="702.4" rx="7.1" ry="4.0" transform="rotate(-102.2 1848.4 702.4)" fill="#fff" stroke="#636363" stroke-width="1.8"/>
<path d="M1860.0,758.0 L1865.6,754.9 L1871.2,751.9 L1877.0,749.0 L1882.8,746.3 L1888.7,743.8 L1894.6,741.3 L1900.6,739.1 L1906.7,737.0 L1912.8,735.0 L1919.0,733.2" fill="none" stroke="#636363" stroke-width="2"/>
<ellipse cx="1883.7" cy="750.5" rx="8.7" ry="2.7" transform="rotate(6.4 1883.7 750.5)" fill="#fff" stroke="#636363" stroke-width="1.8"/>
<ellipse cx="1879.5" cy="742.6" rx="8.7" ry="2.7" transform="rotate(-62.4 1879.5 742.6)" fill="#fff" stroke="#636363" stroke-width="1.8"/>
<ellipse cx="1890.0" cy="747.2" rx="8.0" ry="2.5" transform="rotate(7.2 1890.0 747.2)" fill="#fff" stroke="#636363" stroke-width="1.8"/>
<ellipse cx="1886.2" cy="740.0" rx="8.0" ry="2.5" transform="rotate(-61.5 1886.2 740.0)" fill="#fff" stroke="#636363" stroke-width="1.8"/>
<ellipse cx="1896.3" cy="744.2" rx="7.2" ry="2.4" transform="rotate(8.1 1896.3 744.2)" fill="#fff" stroke="#636363" stroke-width="1.8"/>
<ellipse cx="1893.0" cy="737.6" rx="7.2" ry="2.4" transform="rotate(-60.7 1893.0 737.6)" fill="#fff" stroke="#636363" stroke-width="1.8"/>
<ellipse cx="1902.8" cy="741.3" rx="6.4" ry="2.2" transform="rotate(9.0 1902.8 741.3)" fill="#fff" stroke="#636363" stroke-width="1.8"/>
<ellipse cx="1899.9" cy="735.4" rx="6.4" ry="2.2" transform="rotate(-59.8 1899.9 735.4)" fill="#fff" stroke="#636363" stroke-width="1.8"/>
<ellipse cx="1909.3" cy="738.7" rx="5.7" ry="2.0" transform="rotate(9.8 1909.3 738.7)" fill="#fff" stroke="#636363" stroke-width="1.8"/>
<ellipse cx="1906.9" cy="733.4" rx="5.7" ry="2.0" transform="rotate(-58.9 1906.9 733.4)" fill="#fff" stroke="#636363" stroke-width="1.8"/>
<ellipse cx="1915.9" cy="736.2" rx="4.9" ry="1.9" transform="rotate(10.7 1915.9 736.2)" fill="#fff" stroke="#636363" stroke-width="1.8"/>
<ellipse cx="1913.9" cy="731.6" rx="4.9" ry="1.9" transform="rotate(-58.1 1913.9 731.6)" fill="#fff" stroke="#636363" stroke-width="1.8"/>
<ellipse cx="1916.5" cy="733.8" rx="7.7" ry="4.2" transform="rotate(-22.8 1916.5 733.8)" fill="#fff" stroke="#636363" stroke-width="1.8"/>
<path d="M1860.0,758.0 L1865.0,760.8 L1870.0,763.4 L1875.1,766.0 L1880.2,768.4 L1885.4,770.6 L1890.7,772.8 L1896.0,774.8 L1901.4,776.7 L1906.9,778.4 L1912.3,780.0" fill="none" stroke="#636363" stroke-width="2"/>
<ellipse cx="1877.3" cy="771.7" rx="7.7" ry="2.5" transform="rotate(62.4 1877.3 771.7)" fill="#fff" stroke="#636363" stroke-width="1.8"/>
<ellipse cx="1881.0" cy="764.7" rx="7.7" ry="2.5" transform="rotate(-6.4 1881.0 764.7)" fill="#fff" stroke="#636363" stroke-width="1.8"/>
<ellipse cx="1883.3" cy="774.0" rx="7.1" ry="2.3" transform="rotate(61.5 1883.3 774.0)" fill="#fff" stroke="#636363" stroke-width="1.8"/>
<ellipse cx="1886.6" cy="767.6" rx="7.1" ry="2.3" transform="rotate(-7.2 1886.6 767.6)" fill="#fff" stroke="#636363" stroke-width="1.8"/>
<ellipse cx="1889.3" cy="776.1" rx="6.4" ry="2.2" transform="rotate(60.7 1889.3 776.1)" fill="#fff" stroke="#636363" stroke-width="1.8"/>
<ellipse cx="1892.2" cy="770.3" rx="6.4" ry="2.2" transform="rotate(-8.1 1892.2 770.3)" fill="#fff" stroke="#636363" stroke-width="1.8"/>
<ellipse cx="1895.4" cy="778.1" rx="5.7" ry="2.0" transform="rotate(59.8 1895.4 778.1)" fill="#fff" stroke="#636363" stroke-width="1.8"/>
<ellipse cx="1898.0" cy="772.8" rx="5.7" ry="2.0" transform="rotate(-9.0 1898.0 772.8)" fill="#fff" stroke="#636363" stroke-width="1.8"/>
<ellipse cx="1901.6" cy="779.8" rx="5.0" ry="1.9" transform="rotate(58.9 1901.6 779.8)" fill="#fff" stroke="#636363" stroke-width="1.8"/>
<ellipse cx="1903.8" cy="775.2" rx="5.0" ry="1.9" transform="rotate(-9.8 1903.8 775.2)" fill="#fff" stroke="#636363" stroke-width="1.8"/>
<ellipse cx="1907.9" cy="781.4" rx="4.3" ry="1.7" transform="rotate(58.1 1907.9 781.4)" fill="#fff" stroke="#636363" stroke-width="1.8"/>
<ellipse cx="1909.6" cy="777.4" rx="4.3" ry="1.7" transform="rotate(-10.7 1909.6 777.4)" fill="#fff" stroke="#636363" stroke-width="1.8"/>
<ellipse cx="1910.1" cy="779.5" rx="6.8" ry="3.8" transform="rotate(22.8 1910.1 779.5)" fill="#fff" stroke="#636363" stroke-width="1.8"/>
<path d="M1860.0,758.0 L1861.5,764.0 L1862.9,770.0 L1864.1,776.0 L1865.2,782.1 L1866.1,788.2 L1866.9,794.3 L1867.5,800.5 L1867.9,806.6 L1868.2,812.8 L1868.4,819.0" fill="none" stroke="#636363" stroke-width="2"/>
<ellipse cx="1861.1" cy="781.9" rx="8.4" ry="2.6" transform="rotate(111.4 1861.1 781.9)" fill="#fff" stroke="#636363" stroke-width="1.8"/>
<ellipse cx="1869.5" cy="780.0" rx="8.4" ry="2.6" transform="rotate(42.6 1869.5 780.0)" fill="#fff" stroke="#636363" stroke-width="1.8"/>
<ellipse cx="1862.5" cy="788.5" rx="7.7" ry="2.5" transform="rotate(112.2 1862.5 788.5)" fill="#fff" stroke="#636363" stroke-width="1.8"/>
<ellipse cx="1870.2" cy="786.9" rx="7.7" ry="2.5" transform="rotate(43.5 1870.2 786.9)" fill="#fff" stroke="#636363" stroke-width="1.8"/>
<ellipse cx="1863.8" cy="795.2" rx="6.9" ry="2.3" transform="rotate(113.1 1863.8 795.2)" fill="#fff" stroke="#636363" stroke-width="1.8"/>
<ellipse cx="1870.8" cy="793.8" rx="6.9" ry="2.3" transform="rotate(44.3 1870.8 793.8)" fill="#fff" stroke="#636363" stroke-width="1.8"/>
<ellipse cx="1864.8" cy="801.9" rx="6.2" ry="2.1" transform="rotate(114.0 1864.8 801.9)" fill="#fff" stroke="#636363" stroke-width="1.8"/>
<ellipse cx="1871.1" cy="800.8" rx="6.2" ry="2.1" transform="rotate(45.2 1871.1 800.8)" fill="#fff" stroke="#636363" stroke-width="1.8"/>
<ellipse cx="1865.7" cy="808.7" rx="5.4" ry="2.0" transform="rotate(114.8 1865.7 808.7)" fill="#fff" stroke="#636363" stroke-width="1.8"/>
<ellipse cx="1871.2" cy="807.7" rx="5.4" ry="2.0" transform="rotate(46.1 1871.2 807.7)" fill="#fff" stroke="#636363" stroke-width="1.8"/>
<ellipse cx="1866.3" cy="815.4" rx="4.7" ry="1.8" transform="rotate(115.7 1866.3 815.4)" fill="#fff" stroke="#636363" stroke-width="1.8"/>
<ellipse cx="1871.1" cy="814.7" rx="4.7" ry="1.8" transform="rotate(46.9 1871.1 814.7)" fill="#fff" stroke="#636363" stroke-width="1.8"/>
<ellipse cx="1868.4" cy="816.5" rx="7.4" ry="4.1" transform="rotate(82.2 1868.4 816.5)" fill="#fff" stroke="#636363" stroke-width="1.8"/>
<path d="M1860.0,758.0 L1857.8,763.0 L1855.6,768.0 L1853.7,773.0 L1851.8,778.2 L1850.1,783.3 L1848.5,788.5 L1847.0,793.8 L1845.6,799.1 L1844.4,804.4 L1843.3,809.8" fill="none" stroke="#636363" stroke-width="2"/>
<ellipse cx="1848.4" cy="775.7" rx="7.4" ry="2.4" transform="rotate(147.4 1848.4 775.7)" fill="#fff" stroke="#636363" stroke-width="1.8"/>
<ellipse cx="1855.4" cy="778.6" rx="7.4" ry="2.4" transform="rotate(78.6 1855.4 778.6)" fill="#fff" stroke="#636363" stroke-width="1.8"/>
<ellipse cx="1846.7" cy="781.6" rx="6.8" ry="2.3" transform="rotate(146.5 1846.7 781.6)" fill="#fff" stroke="#636363" stroke-width="1.8"/>
<ellipse cx="1853.1" cy="784.2" rx="6.8" ry="2.3" transform="rotate(77.8 1853.1 784.2)" fill="#fff" stroke="#636363" stroke-width="1.8"/>
<ellipse cx="1845.1" cy="787.5" rx="6.1" ry="2.1" transform="rotate(145.7 1845.1 787.5)" fill="#fff" stroke="#636363" stroke-width="1.8"/>
<ellipse cx="1851.0" cy="789.8" rx="6.1" ry="2.1" transform="rotate(76.9 1851.0 789.8)" fill="#fff" stroke="#636363" stroke-width="1.8"/>
<ellipse cx="1843.8" cy="793.5" rx="5.5" ry="2.0" transform="rotate(144.8 1843.8 793.5)" fill="#fff" stroke="#636363" stroke-width="1.8"/>
<ellipse cx="1849.1" cy="795.4" rx="5.5" ry="2.0" transform="rotate(76.0 1849.1 795.4)" fill="#fff" stroke="#636363" stroke-width="1.8"/>
<ellipse cx="1842.6" cy="799.5" rx="4.8" ry="1.8" transform="rotate(143.9 1842.6 799.5)" fill="#fff" stroke="#636363" stroke-width="1.8"/>
<ellipse cx="1847.3" cy="801.2" rx="4.8" ry="1.8" transform="rotate(75.2 1847.3 801.2)" fill="#fff" stroke="#636363" stroke-width="1.8"/>
<ellipse cx="1841.6" cy="805.6" rx="4.2" ry="1.7" transform="rotate(143.1 1841.6 805.6)" fill="#fff" stroke="#636363" stroke-width="1.8"/>
<ellipse cx="1845.7" cy="807.0" rx="4.2" ry="1.7" transform="rotate(74.3 1845.7 807.0)" fill="#fff" stroke="#636363" stroke-width="1.8"/>
<ellipse cx="1843.7" cy="807.6" rx="6.5" ry="3.7" transform="rotate(107.8 1843.7 807.6)" fill="#fff" stroke="#636363" stroke-width="1.8"/>
<path d="M1860.0,758.0 L1854.4,760.0 L1848.8,761.8 L1843.1,763.4 L1837.4,765.0 L1831.6,766.4 L1825.8,767.6 L1820.0,768.7 L1814.1,769.7 L1808.2,770.5 L1802.3,771.2" fill="none" stroke="#636363" stroke-width="2"/>
<ellipse cx="1837.2" cy="761.0" rx="8.1" ry="2.6" transform="rotate(196.4 1837.2 761.0)" fill="#fff" stroke="#636363" stroke-width="1.8"/>
<ellipse cx="1839.8" cy="768.9" rx="8.1" ry="2.6" transform="rotate(127.6 1839.8 768.9)" fill="#fff" stroke="#636363" stroke-width="1.8"/>
<ellipse cx="1831.0" cy="763.0" rx="7.4" ry="2.4" transform="rotate(197.2 1831.0 763.0)" fill="#fff" stroke="#636363" stroke-width="1.8"/>
<ellipse cx="1833.2" cy="770.2" rx="7.4" ry="2.4" transform="rotate(128.5 1833.2 770.2)" fill="#fff" stroke="#636363" stroke-width="1.8"/>
<ellipse cx="1824.7" cy="764.7" rx="6.7" ry="2.3" transform="rotate(198.1 1824.7 764.7)" fill="#fff" stroke="#636363" stroke-width="1.8"/>
<ellipse cx="1826.6" cy="771.3" rx="6.7" ry="2.3" transform="rotate(129.3 1826.6 771.3)" fill="#fff" stroke="#636363" stroke-width="1.8"/>
<ellipse cx="1818.4" cy="766.3" rx="5.9" ry="2.1" transform="rotate(199.0 1818.4 766.3)" fill="#fff" stroke="#636363" stroke-width="1.8"/>
<ellipse cx="1820.0" cy="772.2" rx="5.9" ry="2.1" transform="rotate(130.2 1820.0 772.2)" fill="#fff" stroke="#636363" stroke-width="1.8"/>
<ellipse cx="1812.0" cy="767.7" rx="5.2" ry="1.9" transform="rotate(199.8 1812.0 767.7)" fill="#fff" stroke="#636363" stroke-width="1.8"/>
<ellipse cx="1813.3" cy="772.9" rx="5.2" ry="1.9" transform="rotate(131.1 1813.3 772.9)" fill="#fff" stroke="#636363" stroke-width="1.8"/>
<ellipse cx="1805.5" cy="768.9" rx="4.5" ry="1.8" transform="rotate(200.7 1805.5 768.9)" fill="#fff" stroke="#636363" stroke-width="1.8"/>
<ellipse cx="1806.6" cy="773.4" rx="4.5" ry="1.8" transform="rotate(131.9 1806.6 773.4)" fill="#fff" stroke="#636363" stroke-width="1.8"/>
<ellipse cx="1804.7" cy="771.0" rx="7.1" ry="4.0" transform="rotate(167.2 1804.7 771.0)" fill="#fff" stroke="#636363" stroke-width="1.8"/>
<path d="M1860.0,758.0 L1853.6,757.5 L1847.2,757.2 L1840.8,757.0 L1834.4,757.0 L1828.0,757.2 L1821.6,757.5 L1815.2,758.0 L1808.8,758.7 L1802.4,759.5 L1796.0,760.4" fill="none" stroke="#636363" stroke-width="2"/>
<ellipse cx="1835.8" cy="752.2" rx="8.7" ry="2.7" transform="rotate(-142.6 1835.8 752.2)" fill="#fff" stroke="#636363" stroke-width="1.8"/>
<ellipse cx="1835.3" cy="761.2" rx="8.7" ry="2.7" transform="rotate(-211.4 1835.3 761.2)" fill="#fff" stroke="#636363" stroke-width="1.8"/>
<ellipse cx="1828.6" cy="752.7" rx="8.0" ry="2.5" transform="rotate(-143.5 1828.6 752.7)" fill="#fff" stroke="#636363" stroke-width="1.8"/>
<ellipse cx="1828.3" cy="760.9" rx="8.0" ry="2.5" transform="rotate(-212.2 1828.3 760.9)" fill="#fff" stroke="#636363" stroke-width="1.8"/>
<ellipse cx="1821.4" cy="753.4" rx="7.2" ry="2.4" transform="rotate(-144.3 1821.4 753.4)" fill="#fff" stroke="#636363" stroke-width="1.8"/>
<ellipse cx="1821.3" cy="760.8" rx="7.2" ry="2.4" transform="rotate(-213.1 1821.3 760.8)" fill="#fff" stroke="#636363" stroke-width="1.8"/>
<ellipse cx="1814.2" cy="754.4" rx="6.4" ry="2.2" transform="rotate(-145.2 1814.2 754.4)" fill="#fff" stroke="#636363" stroke-width="1.8"/>
<ellipse cx="1814.2" cy="761.0" rx="6.4" ry="2.2" transform="rotate(-214.0 1814.2 761.0)" fill="#fff" stroke="#636363" stroke-width="1.8"/>
<ellipse cx="1807.1" cy="755.5" rx="5.7" ry="2.0" transform="rotate(-146.1 1807.1 755.5)" fill="#fff" stroke="#636363" stroke-width="1.8"/>
<ellipse cx="1807.1" cy="761.3" rx="5.7" ry="2.0" transform="rotate(-214.8 1807.1 761.3)" fill="#fff" stroke="#636363" stroke-width="1.8"/>
<ellipse cx="1800.0" cy="756.9" rx="4.9" ry="1.9" transform="rotate(-146.9 1800.0 756.9)" fill="#fff" stroke="#636363" stroke-width="1.8"/>
<ellipse cx="1800.1" cy="761.9" rx="4.9" ry="1.9" transform="rotate(-215.7 1800.1 761.9)" fill="#fff" stroke="#636363" stroke-width="1.8"/>
<ellipse cx="1798.6" cy="760.0" rx="7.7" ry="4.2" transform="rotate(-182.2 1798.6 760.0)" fill="#fff" stroke="#636363" stroke-width="1.8"/>
<line x1="1701.5" y1="473" x2="1701.5" y2="743" stroke="#777" stroke-width="2" />
<line x1="1795" y1="484" x2="1795" y2="735" stroke="#aaa" stroke-width="1.5" />
<rect x="1742.7" y="474.2" width="11.7" height="156" rx="0" fill="none" stroke="#636363" stroke-width="2.2" />
<line x1="104" y1="1025.5" x2="510" y2="1025.5" stroke="#999" stroke-width="1.5" />
<line x1="507" y1="1025" x2="507" y2="1268" stroke="#999" stroke-width="1.5" />
<line x1="104" y1="1264.5" x2="510" y2="1264.5" stroke="#999" stroke-width="1.5" />
<rect x="127.7" y="1028" width="83.3" height="10.5" rx="2" fill="none" stroke="#636363" stroke-width="2" />
<line x1="131" y1="1033" x2="207" y2="1033" stroke="#636363" stroke-width="1.5" />
<ellipse cx="168.7" cy="1184" rx="25" ry="34" fill="#fff" stroke="#636363" stroke-width="2"/>
<rect x="107" y="1224.5" width="124.8" height="38.5" rx="0" fill="#fff" stroke="#636363" stroke-width="2" />
<rect x="134" y="1230" width="70" height="31" rx="0" fill="none" stroke="#636363" stroke-width="2" />
<circle cx="120" cy="1247" r="8" fill="none" stroke="#636363" stroke-width="1.8"/>
<path d="M140,1236 L195,1254 M140,1254 L195,1236" fill="none" stroke="#888" stroke-width="1.2" stroke-dasharray="4,3"/>
<rect x="235" y="1179.7" width="166" height="82.3" rx="0" fill="none" stroke="#636363" stroke-width="2" />
<line x1="317.5" y1="1179.7" x2="317.5" y2="1262" stroke="#636363" stroke-width="2" />
<rect x="239.6" y="1198.6" width="74" height="56.4" rx="8" fill="none" stroke="#636363" stroke-width="2" />
<rect x="244.0" y="1206.5" width="65" height="37.5" rx="6" fill="none" stroke="#636363" stroke-width="2" />
<line x1="257.6" y1="1240" x2="257.6" y2="1250" stroke="#636363" stroke-width="2" />
<line x1="279.6" y1="1240" x2="279.6" y2="1250" stroke="#636363" stroke-width="2" />
<rect x="320" y="1198.6" width="74" height="56.4" rx="8" fill="none" stroke="#636363" stroke-width="2" />
<rect x="324.4" y="1206.5" width="65" height="37.5" rx="6" fill="none" stroke="#636363" stroke-width="2" />
<line x1="338" y1="1240" x2="338" y2="1250" stroke="#636363" stroke-width="2" />
<line x1="360" y1="1240" x2="360" y2="1250" stroke="#636363" stroke-width="2" />
<rect x="402" y="1025" width="102" height="236.7" rx="0" fill="none" stroke="#636363" stroke-width="2" />
<path d="M408,1079.3 A44.3,44.3 0 0 1 496.6,1079.3 V1240 Q496.6,1255 481.6,1255 H423 Q408,1255 408,1240 Z" fill="none" stroke="#636363" stroke-width="2" />
<circle cx="451" cy="1233" r="3" fill="#636363"/>
<line x1="530" y1="1008" x2="530" y2="1283" stroke="#c8c8c8" stroke-width="2" stroke-dasharray="10,6"/>
<rect x="107" y="1288.5" width="82" height="220" rx="0" fill="none" stroke="#636363" stroke-width="2" />
<line x1="107" y1="1369" x2="189" y2="1369" stroke="#636363" stroke-width="2" />
<circle cx="148" cy="1328" r="28.4" fill="none" stroke="#636363" stroke-width="2"/>
<use href="#hg" transform="translate(148,1395.6) scale(1,0.82)" fill="none" stroke="#636363" stroke-width="2"/>
<use href="#hg" transform="translate(148,1430) scale(1,0.82)" fill="none" stroke="#636363" stroke-width="2"/>
<use href="#hg" transform="translate(148,1463) scale(1,0.82)" fill="none" stroke="#636363" stroke-width="2"/>
<use href="#hg" transform="translate(148,1496.5) scale(1,0.82)" fill="none" stroke="#636363" stroke-width="2"/>
<rect x="189" y="1425.6" width="219" height="82" rx="0" fill="none" stroke="#636363" stroke-width="2" />
<rect x="408" y="1446" width="101" height="61.6" rx="0" fill="none" stroke="#636363" stroke-width="2" />
<use href="#hv" transform="translate(201.8,1435) scale(1.0)" fill="none" stroke="#636363" stroke-width="1.8"/>
<use href="#hv" transform="translate(236.5,1435) scale(1.0)" fill="none" stroke="#636363" stroke-width="1.8"/>
<use href="#hv" transform="translate(271.20000000000005,1435) scale(1.0)" fill="none" stroke="#636363" stroke-width="1.8"/>
<use href="#hv" transform="translate(305.90000000000003,1435) scale(1.0)" fill="none" stroke="#636363" stroke-width="1.8"/>
<use href="#hv" transform="translate(340.6,1435) scale(1.0)" fill="none" stroke="#636363" stroke-width="1.8"/>
<use href="#hv" transform="translate(375.3,1435) scale(1.0)" fill="none" stroke="#636363" stroke-width="1.8"/>
<line x1="736" y1="909.5" x2="1109" y2="909.5" stroke="#999" stroke-width="1.5" />
<line x1="739" y1="906" x2="739" y2="1148" stroke="#999" stroke-width="1.5" />
<line x1="736" y1="1146.5" x2="1109" y2="1146.5" stroke="#999" stroke-width="1.5" />
<rect x="740.9" y="912.5" width="104.1" height="232.9" rx="0" fill="none" stroke="#636363" stroke-width="2" />
<path d="M749.5,962.7 A44,44 0 0 1 837.5,962.7 V1124 Q837.5,1139 822.5,1139 H764.5 Q749.5,1139 749.5,1124 Z" fill="none" stroke="#636363" stroke-width="2" />
<circle cx="795" cy="1117" r="3" fill="#636363"/>
<rect x="1022" y="912" width="82" height="112" rx="0" fill="none" stroke="#636363" stroke-width="2" />
<rect x="1043" y="927.4" width="54.6" height="77.6" rx="9" fill="none" stroke="#636363" stroke-width="2" />
<rect x="1047" y="932" width="46" height="68" rx="7" fill="none" stroke="#636363" stroke-width="1.8" />
<line x1="1082" y1="955" x2="1090" y2="955" stroke="#636363" stroke-width="2" />
<line x1="1082" y1="977" x2="1090" y2="977" stroke="#636363" stroke-width="2" />
<rect x="1066.6" y="1025" width="38.4" height="120" rx="0" fill="none" stroke="#636363" stroke-width="2" />
<line x1="1066.6" y1="1052" x2="1105" y2="1052" stroke="#636363" stroke-width="1.5" />
<line x1="1066.6" y1="1120" x2="1105" y2="1120" stroke="#636363" stroke-width="1.5" />
<line x1="1071" y1="1025" x2="1071" y2="1145" stroke="#636363" stroke-width="1.2" />
<line x1="1100" y1="1025" x2="1100" y2="1145" stroke="#636363" stroke-width="1.2" />
<circle cx="1090" cy="1132" r="8" fill="none" stroke="#636363" stroke-width="1.8"/>
<ellipse cx="1024.5" cy="1086" rx="32" ry="26" fill="#fff" stroke="#636363" stroke-width="2"/>
<path d="M1045,1066 L1066,1066 M1045,1106 L1066,1106" fill="none" stroke="#636363" stroke-width="1.5" />
<rect x="719.5" y="1170" width="83" height="337.5" rx="0" fill="none" stroke="#636363" stroke-width="2" />
<line x1="719.5" y1="1311.8" x2="802.6" y2="1311.8" stroke="#636363" stroke-width="2" />
<path d="M773.0,1196.5 L772.8,1198.1 L772.1,1199.5 L770.9,1200.9 L769.5,1202.0 L767.7,1202.9 L765.8,1203.5 L764.3,1204.0 L765.2,1205.8 L765.8,1207.7 L766.1,1209.6 L766.0,1211.4 L765.6,1213.1 L764.8,1214.5 L763.6,1215.5 L762.2,1216.2 L760.5,1216.4 L758.8,1216.3 L757.0,1215.7 L755.2,1214.8 L753.6,1213.6 L752.4,1213.7 L751.5,1215.5 L750.3,1217.1 L749.0,1218.4 L747.5,1219.4 L745.9,1219.9 L744.3,1220.0 L742.8,1219.6 L741.4,1218.8 L740.3,1217.6 L739.4,1216.0 L738.8,1214.2 L738.5,1212.2 L738.5,1210.2 L737.1,1210.0 L735.2,1210.3 L733.2,1210.3 L731.4,1210.0 L729.8,1209.4 L728.4,1208.4 L727.5,1207.1 L727.0,1205.6 L726.9,1204.0 L727.3,1202.3 L728.0,1200.7 L729.2,1199.1 L730.6,1197.7 L732.2,1196.5 L730.6,1195.3 L729.2,1193.9 L728.0,1192.3 L727.3,1190.7 L726.9,1189.0 L727.0,1187.4 L727.5,1185.9 L728.4,1184.6 L729.8,1183.6 L731.4,1183.0 L733.2,1182.7 L735.2,1182.7 L737.1,1183.0 L738.5,1182.8 L738.5,1180.8 L738.8,1178.8 L739.4,1177.0 L740.3,1175.4 L741.4,1174.2 L742.8,1173.4 L744.3,1173.0 L745.9,1173.1 L747.5,1173.6 L749.0,1174.6 L750.3,1175.9 L751.5,1177.5 L752.4,1179.3 L753.6,1179.4 L755.2,1178.2 L757.0,1177.3 L758.8,1176.7 L760.5,1176.6 L762.2,1176.8 L763.6,1177.5 L764.8,1178.5 L765.6,1179.9 L766.0,1181.6 L766.1,1183.4 L765.8,1185.3 L765.2,1187.2 L764.3,1189.0 L765.8,1189.5 L767.7,1190.1 L769.5,1191.0 L770.9,1192.1 L772.1,1193.5 L772.8,1194.9 L773.0,1196.5Z" fill="#f4f4f4" stroke="#636363" stroke-width="2.2"/>
<path d="M763.9,1196.5 L762.6,1197.4 L761.2,1198.1 L761.9,1199.1 L763.0,1200.2 L763.8,1201.5 L764.2,1202.8 L764.3,1204.0 L764.0,1205.1 L763.3,1206.0 L762.3,1206.7 L761.0,1207.0 L759.5,1207.0 L758.0,1206.8 L756.5,1206.3 L756.3,1207.5 L756.2,1209.0 L755.9,1210.5 L755.3,1211.7 L754.5,1212.6 L753.5,1213.2 L752.3,1213.3 L751.2,1213.1 L750.0,1212.4 L749.0,1211.4 L748.1,1210.1 L747.4,1208.7 L746.4,1209.4 L745.3,1210.5 L744.0,1211.3 L742.7,1211.7 L741.5,1211.8 L740.4,1211.5 L739.5,1210.8 L738.8,1209.8 L738.5,1208.5 L738.5,1207.0 L738.7,1205.5 L739.2,1204.0 L738.0,1203.8 L736.5,1203.7 L735.0,1203.4 L733.8,1202.8 L732.9,1202.0 L732.3,1201.0 L732.2,1199.8 L732.4,1198.7 L733.1,1197.5 L734.1,1196.5 L735.4,1195.6 L736.8,1194.9 L736.1,1193.9 L735.0,1192.8 L734.2,1191.5 L733.8,1190.2 L733.7,1189.0 L734.0,1187.9 L734.7,1187.0 L735.7,1186.3 L737.0,1186.0 L738.5,1186.0 L740.0,1186.2 L741.5,1186.7 L741.7,1185.5 L741.8,1184.0 L742.1,1182.5 L742.7,1181.3 L743.5,1180.4 L744.5,1179.8 L745.7,1179.7 L746.8,1179.9 L748.0,1180.6 L749.0,1181.6 L749.9,1182.9 L750.6,1184.3 L751.6,1183.6 L752.7,1182.5 L754.0,1181.7 L755.3,1181.3 L756.5,1181.2 L757.6,1181.5 L758.5,1182.2 L759.2,1183.2 L759.5,1184.5 L759.5,1186.0 L759.3,1187.5 L758.8,1189.0 L760.0,1189.2 L761.5,1189.3 L763.0,1189.6 L764.2,1190.2 L765.1,1191.0 L765.7,1192.0 L765.8,1193.2 L765.6,1194.3 L764.9,1195.5 L763.9,1196.5Z" fill="#a8a8a8" stroke="#636363" stroke-width="2"/>
<path d="M760.3,1196.5 L759.9,1197.2 L759.4,1197.9 L758.6,1198.4 L757.8,1198.9 L756.9,1199.2 L756.9,1199.8 L757.4,1200.6 L757.7,1201.5 L757.8,1202.4 L757.8,1203.3 L757.6,1204.0 L757.1,1204.6 L756.6,1205.1 L755.8,1205.4 L755.0,1205.5 L754.1,1205.4 L753.3,1205.1 L752.4,1204.7 L751.6,1204.2 L751.3,1205.0 L750.9,1205.9 L750.3,1206.6 L749.7,1207.3 L749.0,1207.7 L748.3,1207.9 L747.5,1207.9 L746.8,1207.7 L746.1,1207.2 L745.6,1206.6 L745.1,1205.8 L744.8,1204.9 L744.7,1204.0 L744.4,1203.4 L743.5,1203.7 L742.6,1203.8 L741.6,1203.9 L740.8,1203.7 L740.0,1203.4 L739.4,1202.9 L739.0,1202.3 L738.8,1201.5 L738.8,1200.7 L739.0,1199.9 L739.4,1199.1 L740.0,1198.3 L740.6,1197.6 L740.5,1197.1 L739.8,1196.5 L739.1,1195.8 L738.5,1195.1 L738.2,1194.3 L738.0,1193.6 L738.1,1192.8 L738.4,1192.1 L738.9,1191.5 L739.6,1191.1 L740.4,1190.7 L741.3,1190.6 L742.2,1190.6 L743.2,1190.7 L743.3,1190.0 L743.2,1189.0 L743.4,1188.1 L743.6,1187.2 L744.1,1186.5 L744.6,1185.9 L745.3,1185.6 L746.0,1185.5 L746.8,1185.5 L747.6,1185.8 L748.3,1186.3 L749.0,1187.0 L749.6,1187.7 L750.1,1188.4 L750.7,1187.7 L751.5,1187.2 L752.3,1186.7 L753.2,1186.5 L754.0,1186.4 L754.7,1186.6 L755.4,1186.9 L755.9,1187.5 L756.3,1188.2 L756.5,1189.0 L756.5,1189.9 L756.4,1190.8 L756.1,1191.8 L756.2,1192.3 L757.2,1192.5 L758.1,1192.7 L758.9,1193.1 L759.6,1193.7 L760.1,1194.3 L760.4,1195.0 L760.5,1195.7 L760.3,1196.5Z" fill="#808080" stroke="#636363" stroke-width="1.8"/>
<path d="M755.2,1196.5 L755.1,1196.9 L754.9,1197.3 L754.6,1197.6 L754.3,1197.9 L754.0,1198.2 L753.6,1198.4 L753.2,1198.6 L752.8,1198.7 L752.9,1199.1 L752.9,1199.5 L752.9,1199.9 L752.9,1200.4 L752.8,1200.8 L752.6,1201.2 L752.4,1201.5 L752.1,1201.8 L751.8,1202.1 L751.4,1202.3 L751.0,1202.4 L750.6,1202.4 L750.2,1202.4 L749.8,1202.2 L749.4,1202.1 L749.0,1201.8 L748.7,1201.5 L748.4,1201.2 L748.1,1200.9 L747.8,1200.9 L747.4,1201.1 L747.0,1201.3 L746.6,1201.4 L746.2,1201.4 L745.7,1201.4 L745.3,1201.3 L744.9,1201.1 L744.6,1200.9 L744.3,1200.6 L744.1,1200.3 L743.9,1199.9 L743.8,1199.5 L743.8,1199.1 L743.8,1198.7 L743.9,1198.2 L744.1,1197.8 L744.3,1197.4 L744.5,1197.1 L744.5,1196.8 L744.2,1196.5 L743.9,1196.2 L743.7,1195.8 L743.5,1195.4 L743.4,1195.0 L743.3,1194.6 L743.3,1194.2 L743.4,1193.8 L743.6,1193.4 L743.8,1193.0 L744.1,1192.8 L744.5,1192.5 L744.9,1192.4 L745.3,1192.2 L745.7,1192.2 L746.1,1192.2 L746.6,1192.3 L747.0,1192.4 L747.3,1192.4 L747.5,1192.0 L747.7,1191.6 L748.0,1191.3 L748.3,1191.0 L748.6,1190.7 L749.0,1190.5 L749.4,1190.4 L749.8,1190.4 L750.2,1190.4 L750.6,1190.5 L751.0,1190.7 L751.3,1190.9 L751.6,1191.2 L751.9,1191.6 L752.0,1191.9 L752.2,1192.4 L752.3,1192.8 L752.3,1193.2 L752.3,1193.6 L752.7,1193.6 L753.2,1193.7 L753.6,1193.9 L754.0,1194.1 L754.3,1194.3 L754.6,1194.6 L754.9,1194.9 L755.1,1195.3 L755.2,1195.7 L755.2,1196.1 L755.2,1196.5Z" fill="#6a6a6a" stroke="#636363" stroke-width="1.5"/>
<path d="M800.0,1214.7 L799.8,1215.8 L799.3,1216.9 L798.5,1217.8 L797.5,1218.6 L796.3,1219.2 L794.9,1219.6 L793.8,1220.0 L794.4,1221.3 L794.9,1222.6 L795.1,1224.0 L795.1,1225.3 L794.7,1226.4 L794.2,1227.4 L793.3,1228.2 L792.3,1228.7 L791.2,1228.8 L789.9,1228.7 L788.6,1228.3 L787.4,1227.7 L786.3,1226.8 L785.4,1226.9 L784.8,1228.1 L784.0,1229.3 L783.0,1230.2 L781.9,1230.9 L780.8,1231.3 L779.7,1231.3 L778.6,1231.1 L777.6,1230.5 L776.8,1229.6 L776.2,1228.5 L775.8,1227.2 L775.6,1225.8 L775.6,1224.4 L774.6,1224.3 L773.2,1224.5 L771.8,1224.5 L770.5,1224.3 L769.4,1223.8 L768.4,1223.1 L767.8,1222.2 L767.4,1221.2 L767.3,1220.0 L767.6,1218.8 L768.2,1217.7 L769.0,1216.5 L770.0,1215.6 L771.1,1214.7 L770.0,1213.8 L769.0,1212.9 L768.2,1211.7 L767.6,1210.6 L767.3,1209.4 L767.4,1208.2 L767.8,1207.2 L768.4,1206.3 L769.4,1205.6 L770.5,1205.1 L771.8,1204.9 L773.2,1204.9 L774.6,1205.1 L775.6,1205.0 L775.6,1203.6 L775.8,1202.2 L776.2,1200.9 L776.8,1199.8 L777.6,1198.9 L778.6,1198.3 L779.7,1198.1 L780.8,1198.1 L781.9,1198.5 L783.0,1199.2 L784.0,1200.1 L784.8,1201.3 L785.4,1202.5 L786.3,1202.6 L787.4,1201.7 L788.6,1201.1 L789.9,1200.7 L791.2,1200.6 L792.3,1200.7 L793.3,1201.2 L794.2,1202.0 L794.7,1203.0 L795.1,1204.1 L795.1,1205.4 L794.9,1206.8 L794.4,1208.1 L793.8,1209.4 L794.9,1209.8 L796.3,1210.2 L797.5,1210.8 L798.5,1211.6 L799.3,1212.5 L799.8,1213.6 L800.0,1214.7Z" fill="#f4f4f4" stroke="#636363" stroke-width="2.2"/>
<path d="M793.6,1214.7 L792.7,1215.3 L791.7,1215.8 L792.2,1216.5 L792.9,1217.4 L793.5,1218.2 L793.8,1219.2 L793.8,1220.0 L793.6,1220.8 L793.1,1221.5 L792.4,1221.9 L791.5,1222.1 L790.5,1222.2 L789.4,1222.0 L788.3,1221.6 L788.2,1222.5 L788.1,1223.6 L787.9,1224.6 L787.5,1225.5 L786.9,1226.1 L786.2,1226.5 L785.4,1226.6 L784.5,1226.4 L783.7,1226.0 L783.0,1225.3 L782.4,1224.4 L781.9,1223.4 L781.2,1223.9 L780.3,1224.6 L779.5,1225.2 L778.5,1225.5 L777.7,1225.5 L776.9,1225.3 L776.2,1224.8 L775.8,1224.1 L775.6,1223.2 L775.5,1222.2 L775.7,1221.1 L776.1,1220.0 L775.2,1219.9 L774.1,1219.8 L773.1,1219.6 L772.2,1219.2 L771.6,1218.6 L771.2,1217.9 L771.1,1217.1 L771.3,1216.2 L771.7,1215.4 L772.4,1214.7 L773.3,1214.1 L774.3,1213.6 L773.8,1212.9 L773.1,1212.0 L772.5,1211.2 L772.2,1210.2 L772.2,1209.4 L772.4,1208.6 L772.9,1207.9 L773.6,1207.5 L774.5,1207.3 L775.5,1207.2 L776.6,1207.4 L777.7,1207.8 L777.8,1206.9 L777.9,1205.8 L778.1,1204.8 L778.5,1203.9 L779.1,1203.3 L779.8,1202.9 L780.6,1202.8 L781.5,1203.0 L782.3,1203.4 L783.0,1204.1 L783.6,1205.0 L784.1,1206.0 L784.8,1205.5 L785.7,1204.8 L786.5,1204.2 L787.5,1203.9 L788.3,1203.9 L789.1,1204.1 L789.8,1204.6 L790.2,1205.3 L790.4,1206.2 L790.5,1207.2 L790.3,1208.3 L789.9,1209.4 L790.8,1209.5 L791.9,1209.6 L792.9,1209.8 L793.8,1210.2 L794.4,1210.8 L794.8,1211.5 L794.9,1212.3 L794.7,1213.2 L794.3,1214.0 L793.6,1214.7Z" fill="#a8a8a8" stroke="#636363" stroke-width="2"/>
<path d="M791.0,1214.7 L790.7,1215.2 L790.3,1215.7 L789.8,1216.1 L789.2,1216.4 L788.6,1216.6 L788.6,1217.0 L788.9,1217.6 L789.2,1218.3 L789.3,1218.9 L789.2,1219.5 L789.1,1220.0 L788.8,1220.5 L788.4,1220.8 L787.8,1221.0 L787.3,1221.1 L786.6,1221.0 L786.0,1220.8 L785.4,1220.5 L784.8,1220.1 L784.6,1220.7 L784.3,1221.3 L783.9,1221.9 L783.5,1222.3 L783.0,1222.6 L782.5,1222.8 L781.9,1222.8 L781.4,1222.6 L781.0,1222.3 L780.6,1221.9 L780.3,1221.3 L780.0,1220.7 L779.9,1220.0 L779.8,1219.6 L779.1,1219.8 L778.4,1219.9 L777.8,1219.9 L777.2,1219.8 L776.7,1219.6 L776.2,1219.2 L775.9,1218.8 L775.8,1218.3 L775.8,1217.7 L775.9,1217.1 L776.2,1216.5 L776.6,1216.0 L777.1,1215.5 L777.0,1215.1 L776.4,1214.7 L776.0,1214.2 L775.6,1213.7 L775.3,1213.2 L775.2,1212.6 L775.3,1212.1 L775.5,1211.6 L775.8,1211.2 L776.3,1210.8 L776.9,1210.6 L777.5,1210.5 L778.2,1210.5 L778.9,1210.6 L778.9,1210.1 L778.9,1209.4 L779.0,1208.7 L779.2,1208.1 L779.5,1207.6 L779.9,1207.2 L780.4,1207.0 L780.9,1206.9 L781.5,1206.9 L782.0,1207.1 L782.5,1207.5 L783.0,1208.0 L783.4,1208.5 L783.8,1209.0 L784.2,1208.5 L784.8,1208.1 L785.3,1207.8 L785.9,1207.6 L786.5,1207.6 L787.1,1207.7 L787.5,1207.9 L787.9,1208.3 L788.2,1208.8 L788.3,1209.4 L788.3,1210.0 L788.2,1210.7 L788.0,1211.3 L788.1,1211.7 L788.8,1211.8 L789.5,1212.0 L790.0,1212.3 L790.5,1212.7 L790.9,1213.1 L791.1,1213.6 L791.1,1214.2 L791.0,1214.7Z" fill="#808080" stroke="#636363" stroke-width="1.8"/>
<path d="M787.4,1214.7 L787.3,1215.0 L787.2,1215.2 L787.0,1215.5 L786.8,1215.7 L786.5,1215.9 L786.3,1216.1 L786.0,1216.2 L785.7,1216.3 L785.7,1216.5 L785.8,1216.8 L785.8,1217.1 L785.7,1217.4 L785.7,1217.7 L785.5,1218.0 L785.4,1218.3 L785.2,1218.5 L785.0,1218.7 L784.7,1218.8 L784.4,1218.9 L784.1,1218.9 L783.8,1218.8 L783.5,1218.8 L783.3,1218.6 L783.0,1218.5 L782.8,1218.3 L782.6,1218.0 L782.4,1217.8 L782.2,1217.8 L781.9,1218.0 L781.6,1218.1 L781.3,1218.2 L781.0,1218.2 L780.7,1218.2 L780.4,1218.1 L780.1,1218.0 L779.9,1217.8 L779.7,1217.6 L779.5,1217.4 L779.4,1217.1 L779.3,1216.8 L779.3,1216.5 L779.3,1216.2 L779.4,1215.9 L779.5,1215.6 L779.7,1215.4 L779.8,1215.1 L779.8,1214.9 L779.6,1214.7 L779.4,1214.5 L779.2,1214.2 L779.1,1213.9 L779.0,1213.6 L779.0,1213.3 L779.0,1213.0 L779.1,1212.8 L779.2,1212.5 L779.3,1212.3 L779.5,1212.0 L779.8,1211.9 L780.1,1211.8 L780.4,1211.7 L780.7,1211.7 L781.0,1211.7 L781.3,1211.7 L781.6,1211.8 L781.8,1211.8 L781.9,1211.5 L782.1,1211.2 L782.3,1211.0 L782.5,1210.8 L782.7,1210.6 L783.0,1210.5 L783.3,1210.4 L783.6,1210.3 L783.9,1210.4 L784.1,1210.4 L784.4,1210.6 L784.6,1210.7 L784.8,1211.0 L785.0,1211.2 L785.2,1211.5 L785.2,1211.8 L785.3,1212.1 L785.3,1212.4 L785.3,1212.6 L785.6,1212.7 L785.9,1212.7 L786.2,1212.8 L786.5,1213.0 L786.8,1213.1 L787.0,1213.3 L787.2,1213.6 L787.3,1213.8 L787.4,1214.1 L787.4,1214.4 L787.4,1214.7Z" fill="#6a6a6a" stroke="#636363" stroke-width="1.5"/>
<use href="#hg" transform="translate(761,1345.0) rotate(0) scale(0.95)" fill="none" stroke="#636363" stroke-width="2"/>
<use href="#hg" transform="translate(761,1376.3) rotate(0) scale(0.95)" fill="none" stroke="#636363" stroke-width="2"/>
<use href="#hg" transform="translate(761,1407.6) rotate(0) scale(0.95)" fill="none" stroke="#636363" stroke-width="2"/>
<use href="#hg" transform="translate(761,1438.9) rotate(0) scale(0.95)" fill="none" stroke="#636363" stroke-width="2"/>
<use href="#hg" transform="translate(761,1470.2) rotate(0) scale(0.95)" fill="none" stroke="#636363" stroke-width="2"/>
<use href="#hg" transform="translate(761,1501.5) rotate(0) scale(0.95)" fill="none" stroke="#636363" stroke-width="2"/>
<line x1="538" y1="1548" x2="538" y2="1562" stroke="#636363" stroke-width="1.5" />
<line x1="676" y1="1548" x2="676" y2="1562" stroke="#636363" stroke-width="1.5" />
<g fill="none" stroke="#636363" stroke-width="2.4">
<rect x="539.2" y="1394.2" width="166.8" height="110" />
<line x1="565.3" y1="1394" x2="565.3" y2="1504"/><line x1="575" y1="1394" x2="575" y2="1504"/>
<line x1="600.6" y1="1394" x2="600.6" y2="1504"/><line x1="609.8" y1="1394" x2="609.8" y2="1504"/>
<line x1="635.5" y1="1394" x2="635.5" y2="1504"/><line x1="645" y1="1394" x2="645" y2="1504"/>
<line x1="671.2" y1="1394" x2="671.2" y2="1504"/><line x1="680.4" y1="1394" x2="680.4" y2="1504"/>
<rect x="540.2" y="1393.3" width="9" height="9"/>
<rect x="556.7" y="1393.3" width="9" height="9"/>
<rect x="575.5" y="1393.3" width="9" height="9"/>
<rect x="591.1" y="1393.3" width="9" height="9"/>
<rect x="610.3" y="1393.3" width="9" height="9"/>
<rect x="626.8" y="1393.3" width="9" height="9"/>
<rect x="646.1" y="1393.3" width="9" height="9"/>
<rect x="662.1" y="1393.3" width="9" height="9"/>
<rect x="680.5" y="1393.3" width="9" height="9"/>
<rect x="548" y="1408" width="10" height="10"/>
<rect x="583.2" y="1408" width="10" height="10"/>
<rect x="618" y="1408" width="10" height="10"/>
<rect x="652.9" y="1408" width="10" height="10"/>
<rect x="687.8" y="1408" width="10" height="10"/>
<line x1="565.3" y1="1408.5" x2="575" y2="1408.5"/><line x1="565.3" y1="1417.5" x2="575" y2="1417.5"/>
<line x1="600.6" y1="1408.5" x2="609.8" y2="1408.5"/><line x1="600.6" y1="1417.5" x2="609.8" y2="1417.5"/>
<line x1="635.5" y1="1408.5" x2="645" y2="1408.5"/><line x1="635.5" y1="1417.5" x2="645" y2="1417.5"/>
<line x1="671.2" y1="1408.5" x2="680.4" y2="1408.5"/><line x1="671.2" y1="1417.5" x2="680.4" y2="1417.5"/>
<rect x="540.2" y="1425.9" width="9" height="9"/>
<rect x="556.7" y="1425.9" width="9" height="9"/>
<rect x="575.5" y="1425.9" width="9" height="9"/>
<rect x="591.1" y="1425.9" width="9" height="9"/>
<rect x="610.3" y="1425.9" width="9" height="9"/>
<rect x="626.8" y="1425.9" width="9" height="9"/>
<rect x="646.1" y="1425.9" width="9" height="9"/>
<rect x="662.1" y="1425.9" width="9" height="9"/>
<rect x="680.5" y="1425.9" width="9" height="9"/>
<rect x="548" y="1443.3" width="10" height="10"/>
<rect x="583.2" y="1443.3" width="10" height="10"/>
<rect x="618" y="1443.3" width="10" height="10"/>
<rect x="652.9" y="1443.3" width="10" height="10"/>
<rect x="687.8" y="1443.3" width="10" height="10"/>
<line x1="565.3" y1="1443.8" x2="575" y2="1443.8"/><line x1="565.3" y1="1452.8" x2="575" y2="1452.8"/>
<line x1="600.6" y1="1443.8" x2="609.8" y2="1443.8"/><line x1="600.6" y1="1452.8" x2="609.8" y2="1452.8"/>
<line x1="635.5" y1="1443.8" x2="645" y2="1443.8"/><line x1="635.5" y1="1452.8" x2="645" y2="1452.8"/>
<line x1="671.2" y1="1443.8" x2="680.4" y2="1443.8"/><line x1="671.2" y1="1452.8" x2="680.4" y2="1452.8"/>
<rect x="540.2" y="1461.2" width="9" height="9"/>
<rect x="556.7" y="1461.2" width="9" height="9"/>
<rect x="575.5" y="1461.2" width="9" height="9"/>
<rect x="591.1" y="1461.2" width="9" height="9"/>
<rect x="610.3" y="1461.2" width="9" height="9"/>
<rect x="626.8" y="1461.2" width="9" height="9"/>
<rect x="646.1" y="1461.2" width="9" height="9"/>
<rect x="662.1" y="1461.2" width="9" height="9"/>
<rect x="680.5" y="1461.2" width="9" height="9"/>
<rect x="548" y="1478.1" width="10" height="10"/>
<rect x="583.2" y="1478.1" width="10" height="10"/>
<rect x="618" y="1478.1" width="10" height="10"/>
<rect x="652.9" y="1478.1" width="10" height="10"/>
<rect x="687.8" y="1478.1" width="10" height="10"/>
<line x1="565.3" y1="1478.6" x2="575" y2="1478.6"/><line x1="565.3" y1="1487.6" x2="575" y2="1487.6"/>
<line x1="600.6" y1="1478.6" x2="609.8" y2="1478.6"/><line x1="600.6" y1="1487.6" x2="609.8" y2="1487.6"/>
<line x1="635.5" y1="1478.6" x2="645" y2="1478.6"/><line x1="635.5" y1="1487.6" x2="645" y2="1487.6"/>
<line x1="671.2" y1="1478.6" x2="680.4" y2="1478.6"/><line x1="671.2" y1="1487.6" x2="680.4" y2="1487.6"/>
<rect x="540.2" y="1496.0" width="9" height="9"/>
<rect x="556.7" y="1496.0" width="9" height="9"/>
<rect x="575.5" y="1496.0" width="9" height="9"/>
<rect x="591.1" y="1496.0" width="9" height="9"/>
<rect x="610.3" y="1496.0" width="9" height="9"/>
<rect x="626.8" y="1496.0" width="9" height="9"/>
<rect x="646.1" y="1496.0" width="9" height="9"/>
<rect x="662.1" y="1496.0" width="9" height="9"/>
<rect x="680.5" y="1496.0" width="9" height="9"/>
</g>
<line x1="534" y1="1397" x2="548" y2="1397" stroke="#777" stroke-width="1.8"/>
<line x1="697" y1="1397" x2="710" y2="1397" stroke="#777" stroke-width="1.8"/>
<line x1="534" y1="1402" x2="548" y2="1402" stroke="#777" stroke-width="1.8"/>
<line x1="697" y1="1402" x2="710" y2="1402" stroke="#777" stroke-width="1.8"/>
<line x1="534" y1="1407" x2="548" y2="1407" stroke="#777" stroke-width="1.8"/>
<line x1="697" y1="1407" x2="710" y2="1407" stroke="#777" stroke-width="1.8"/>
<line x1="534" y1="1412" x2="548" y2="1412" stroke="#777" stroke-width="1.8"/>
<line x1="697" y1="1412" x2="710" y2="1412" stroke="#777" stroke-width="1.8"/>
<line x1="534" y1="1417" x2="548" y2="1417" stroke="#777" stroke-width="1.8"/>
<line x1="697" y1="1417" x2="710" y2="1417" stroke="#777" stroke-width="1.8"/>
<line x1="534" y1="1422" x2="548" y2="1422" stroke="#777" stroke-width="1.8"/>
<line x1="697" y1="1422" x2="710" y2="1422" stroke="#777" stroke-width="1.8"/>
<line x1="534" y1="1427" x2="548" y2="1427" stroke="#777" stroke-width="1.8"/>
<line x1="697" y1="1427" x2="710" y2="1427" stroke="#777" stroke-width="1.8"/>
<line x1="534" y1="1432" x2="548" y2="1432" stroke="#777" stroke-width="1.8"/>
<line x1="697" y1="1432" x2="710" y2="1432" stroke="#777" stroke-width="1.8"/>
<line x1="534" y1="1437" x2="548" y2="1437" stroke="#777" stroke-width="1.8"/>
<line x1="697" y1="1437" x2="710" y2="1437" stroke="#777" stroke-width="1.8"/>
<line x1="534" y1="1442" x2="548" y2="1442" stroke="#777" stroke-width="1.8"/>
<line x1="697" y1="1442" x2="710" y2="1442" stroke="#777" stroke-width="1.8"/>
<line x1="534" y1="1447" x2="548" y2="1447" stroke="#777" stroke-width="1.8"/>
<line x1="697" y1="1447" x2="710" y2="1447" stroke="#777" stroke-width="1.8"/>
<line x1="534" y1="1452" x2="548" y2="1452" stroke="#777" stroke-width="1.8"/>
<line x1="697" y1="1452" x2="710" y2="1452" stroke="#777" stroke-width="1.8"/>
<line x1="534" y1="1457" x2="548" y2="1457" stroke="#777" stroke-width="1.8"/>
<line x1="697" y1="1457" x2="710" y2="1457" stroke="#777" stroke-width="1.8"/>
<line x1="534" y1="1462" x2="548" y2="1462" stroke="#777" stroke-width="1.8"/>
<line x1="697" y1="1462" x2="710" y2="1462" stroke="#777" stroke-width="1.8"/>
<line x1="534" y1="1467" x2="548" y2="1467" stroke="#777" stroke-width="1.8"/>
<line x1="697" y1="1467" x2="710" y2="1467" stroke="#777" stroke-width="1.8"/>
<line x1="534" y1="1472" x2="548" y2="1472" stroke="#777" stroke-width="1.8"/>
<line x1="697" y1="1472" x2="710" y2="1472" stroke="#777" stroke-width="1.8"/>
<line x1="534" y1="1477" x2="548" y2="1477" stroke="#777" stroke-width="1.8"/>
<line x1="697" y1="1477" x2="710" y2="1477" stroke="#777" stroke-width="1.8"/>
<line x1="534" y1="1482" x2="548" y2="1482" stroke="#777" stroke-width="1.8"/>
<line x1="697" y1="1482" x2="710" y2="1482" stroke="#777" stroke-width="1.8"/>
<line x1="534" y1="1487" x2="548" y2="1487" stroke="#777" stroke-width="1.8"/>
<line x1="697" y1="1487" x2="710" y2="1487" stroke="#777" stroke-width="1.8"/>
<line x1="534" y1="1492" x2="548" y2="1492" stroke="#777" stroke-width="1.8"/>
<line x1="697" y1="1492" x2="710" y2="1492" stroke="#777" stroke-width="1.8"/>
<line x1="534" y1="1497" x2="548" y2="1497" stroke="#777" stroke-width="1.8"/>
<line x1="697" y1="1497" x2="710" y2="1497" stroke="#777" stroke-width="1.8"/>
<line x1="534" y1="1502" x2="548" y2="1502" stroke="#777" stroke-width="1.8"/>
<line x1="697" y1="1502" x2="710" y2="1502" stroke="#777" stroke-width="1.8"/>
<!-- FURN END -->
<!-- TEXT -->
<g stroke="#c0c0c0" stroke-width="2.5">
<line x1="383.4" y1="673.6" x2="484.8" y2="673.6"/>
<line x1="725.9" y1="596.2" x2="826.4" y2="596.2"/>
<line x1="1412" y1="610.5" x2="1534" y2="610.5"/>
<line x1="1570" y1="733.7" x2="1673.8" y2="733.7"/>
<line x1="985" y1="854.8" x2="1085" y2="854.8"/>
<line x1="354.6" y1="969.8" x2="457" y2="969.8"/>
<line x1="888" y1="1053.7" x2="980" y2="1053.7"/>
<line x1="272.7" y1="1155.4" x2="376.8" y2="1155.4"/>
<line x1="304" y1="1402.6" x2="405" y2="1402.6"/>
<line x1="597" y1="1367.3" x2="700" y2="1367.3"/>
<line x1="1887" y1="697.5" x2="1988.8" y2="697.5"/>
</g>
<g text-anchor="middle">
<text x="434.1" y="664.6">8,29</text>
<text x="776.2" y="587.2">8,43</text>
<text x="1473.0" y="601.5">13,09</text>
<text x="1621.9" y="724.7">6,39</text>
<text x="1035.0" y="845.8">8,27</text>
<text x="405.8" y="960.8">6,26</text>
<text x="934.0" y="1044.7">4,66</text>
<text x="324.8" y="1146.4">5,07</text>
<text x="354.5" y="1393.6">4,77</text>
<text x="648.5" y="1358.3">4,96</text>
<text x="1938.0" y="688.5">5,99</text>
</g>
</svg>
</body></html>
